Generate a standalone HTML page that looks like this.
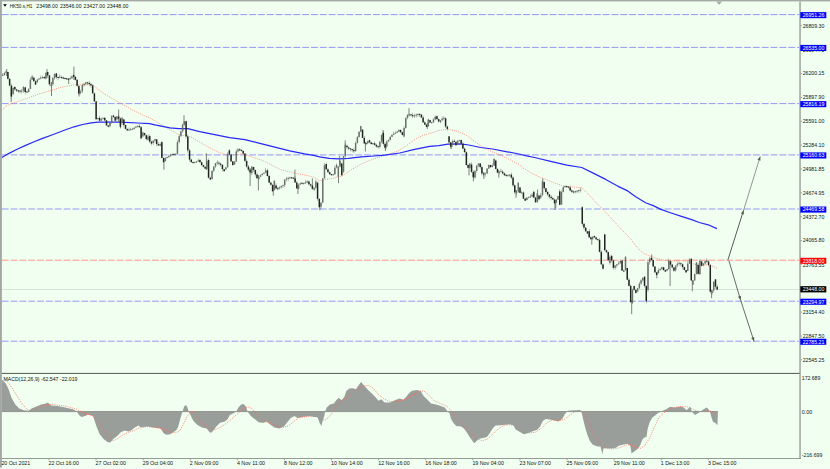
<!DOCTYPE html>
<html><head><meta charset="utf-8"><title>HK50.s H1</title>
<style>
html,body{margin:0;padding:0;background:#f0fff0;}
body{width:830px;height:469px;overflow:hidden;font-family:"Liberation Sans",sans-serif;}
svg{display:block;position:absolute;left:0;top:0;}
.t{font-family:"Liberation Sans",sans-serif;font-size:5.3px;fill:#101410;}
.w{fill:#ffffff;}
</style></head><body>
<svg width="830" height="469" viewBox="0 0 830 469">
<rect x="0" y="0" width="830" height="469" fill="#f0fff0"/>
<line x1="1.8" y1="14.6" x2="799.5" y2="14.6" stroke="#9498f8" stroke-width="1" stroke-dasharray="6.8 2.037"/>
<line x1="1.8" y1="47.4" x2="799.5" y2="47.4" stroke="#9498f8" stroke-width="1" stroke-dasharray="6.8 2.037"/>
<line x1="1.8" y1="103.6" x2="799.5" y2="103.6" stroke="#9498f8" stroke-width="1" stroke-dasharray="6.8 2.037"/>
<line x1="1.8" y1="154.9" x2="799.5" y2="154.9" stroke="#9498f8" stroke-width="1" stroke-dasharray="6.8 2.037"/>
<line x1="1.8" y1="209.0" x2="799.5" y2="209.0" stroke="#9498f8" stroke-width="1" stroke-dasharray="6.8 2.037"/>
<line x1="1.8" y1="301.2" x2="799.5" y2="301.2" stroke="#9498f8" stroke-width="1" stroke-dasharray="6.8 2.037"/>
<line x1="1.8" y1="341.2" x2="799.5" y2="341.2" stroke="#9498f8" stroke-width="1" stroke-dasharray="6.8 2.037"/>
<line x1="1.8" y1="260.2" x2="799.5" y2="260.2" stroke="#ff9488" stroke-width="1" stroke-dasharray="6.8 2.037"/>
<line x1="2" y1="289.5" x2="799.5" y2="289.5" stroke="#c8d0c8" stroke-width="0.6"/>
<polygon points="1.9,411.6 1.9,379.6 5.8,383.4 8.6,389.2 11.5,397.8 15.3,404.5 19.2,408.4 24.0,410.3 28.8,410.7 31.6,408.4 36.4,406.4 41.2,404.5 46.0,403.6 47.9,402.6 50.8,405.5 57.5,406.1 65.2,407.4 72.9,409.3 76.7,411.2 79.0,415.1 81.5,417.0 85.3,416.0 88.2,414.5 93.0,416.0 94.9,421.8 96.9,427.5 99.7,434.3 103.6,439.0 107.4,441.9 110.3,442.5 113.2,439.0 117.0,436.2 120.8,432.3 124.7,430.4 128.5,431.4 131.0,430.4 134.8,427.5 138.6,425.6 140.5,427.2 147.3,426.6 153.0,427.5 160.7,428.5 163.6,433.3 166.4,434.8 170.3,434.2 173.2,432.3 176.0,430.4 177.9,427.5 179.5,421.8 181.4,415.1 182.7,411.2 184.1,406.4 186.0,405.1 187.5,407.4 188.5,411.2 191.0,416.0 193.3,420.8 197.1,424.7 201.9,427.5 206.7,428.5 209.0,431.4 210.9,432.9 213.4,430.4 216.3,426.6 220.1,422.7 224.9,421.4 227.8,418.9 229.7,415.1 233.6,413.2 236.4,411.2 238.4,407.4 241.2,404.5 243.5,404.1 246.0,406.4 247.4,411.2 250.8,416.0 254.7,418.9 258.5,422.2 262.3,422.7 263.8,422.7 266.7,421.4 270.5,424.7 274.4,427.5 279.2,428.5 284.0,426.6 286.9,422.7 290.7,417.9 294.5,416.0 297.4,417.9 302.2,417.0 309.9,416.0 314.7,417.0 317.5,417.0 319.5,422.7 321.4,426.0 322.9,419.9 324.3,416.0 325.2,411.2 326.7,407.4 330.0,404.5 333.8,403.6 336.7,399.7 339.0,397.8 341.5,400.3 344.4,396.8 346.3,391.1 349.2,388.6 353.0,388.2 355.9,389.2 358.8,385.0 361.1,382.1 363.6,385.0 367.4,389.2 371.2,393.0 375.1,396.8 378.5,400.7 381.2,399.2 384.7,402.6 390.4,402.6 394.8,400.3 399.6,398.4 403.4,399.7 406.3,396.8 409.2,393.0 412.1,390.7 416.9,390.1 420.7,391.1 423.6,395.9 427.4,399.7 431.2,403.6 436.0,404.5 440.8,406.1 444.7,407.4 447.5,411.2 449.5,413.2 451.0,418.9 453.3,422.7 456.2,426.0 461.0,426.6 463.8,428.5 466.7,432.3 469.6,437.1 472.5,441.0 474.4,443.3 476.3,441.3 479.2,438.7 483.0,438.1 486.9,437.1 489.7,433.3 492.6,428.5 495.5,425.6 500.3,425.2 505.1,424.7 509.9,424.3 513.7,425.6 515.6,429.5 519.5,431.8 523.8,434.2 528.6,432.9 533.4,431.0 537.3,429.8 540.1,426.6 543.0,420.8 545.9,418.9 549.7,419.5 553.6,420.2 558.4,421.4 562.2,418.9 565.1,413.7 567.9,410.7 573.7,410.3 577.5,410.3 580.4,409.9 581.8,413.2 583.3,419.9 585.2,427.5 587.5,435.2 590.0,441.3 592.9,444.8 596.7,446.3 600.6,446.7 602.5,454.4 603.4,448.6 606.3,448.3 612.1,448.6 615.9,447.7 618.8,445.8 623.6,444.4 627.4,443.8 630.3,445.8 631.6,453.4 634.1,451.5 637.0,449.6 639.9,445.8 642.7,439.0 645.6,436.7 646.6,437.1 647.5,429.5 649.5,422.7 652.3,417.6 655.2,415.6 657.7,413.2 661.5,411.2 666.3,409.3 670.1,406.8 674.9,407.4 680.7,406.4 683.6,407.4 686.4,410.3 688.4,408.4 690.3,406.8 691.8,411.2 693.2,413.2 695.1,415.1 697.9,413.2 700.8,411.2 703.7,409.3 706.6,407.4 708.5,409.3 709.8,411.2 711.4,417.0 712.9,421.8 715.2,422.7 717.5,425.2 717.9,411.2 717.9,411.6" fill="#9a9e9a"/>
<line x1="1.9" y1="411.6" x2="717.9" y2="411.6" stroke="#8e928e" stroke-width="1"/>
<polyline points="3.8,377.7 9.6,384.4 15.3,393.0 21.1,402.6 26.9,409.3 30.7,410.7 36.4,408.4 44.1,405.5 49.9,404.5 57.5,405.1 67.1,406.4 76.7,409.3 84.4,413.2 92.1,415.6 97.8,420.8 103.6,429.5 108.4,437.1 112.2,441.0 117.0,439.0 122.7,435.2 128.5,432.3 134.3,430.4 137.7,428.5 147.3,426.6 156.9,427.5 164.5,429.5 171.2,432.3 176.0,432.9 179.9,430.4 183.7,423.7 187.5,416.0 191.0,411.8 194.2,412.6 198.1,417.9 202.9,423.7 208.6,427.5 214.4,429.8 220.1,427.5 225.9,423.7 231.7,418.9 237.4,414.1 243.2,409.3 248.0,406.8 251.8,408.4 256.6,414.1 262.3,418.9 265.8,421.8 271.5,423.7 278.2,426.6 284.0,427.2 288.8,425.6 293.6,421.8 298.4,417.9 306.0,416.6 315.6,416.6 321.4,418.9 324.3,420.3 328.1,417.9 331.9,413.2 335.8,406.4 340.6,401.6 346.3,397.8 352.1,393.0 357.8,389.2 363.6,385.9 368.4,385.3 373.2,388.2 378.0,394.0 383.7,398.8 389.5,401.6 395.8,401.6 401.5,400.3 407.3,398.4 413.0,394.9 418.8,391.5 423.6,390.7 428.4,394.9 434.1,400.7 440.8,403.6 446.6,406.1 451.4,410.7 456.2,417.9 461.0,423.7 466.7,428.5 472.5,434.3 477.3,439.0 482.1,440.6 486.9,439.4 491.7,435.2 496.4,430.4 501.2,426.6 507.0,424.7 512.7,425.0 518.5,427.5 524.8,431.0 529.6,432.9 535.3,432.3 541.1,428.5 546.9,422.7 552.6,419.9 558.4,420.8 564.1,419.5 569.9,415.1 575.6,411.2 580.4,410.3 584.2,414.1 589.0,423.7 593.8,434.3 598.6,441.9 603.4,446.7 608.2,448.6 614.0,449.0 619.7,447.7 625.5,445.2 630.3,444.4 635.1,446.7 639.9,448.6 644.7,445.8 649.5,438.1 654.3,427.5 658.6,417.9 663.4,413.2 669.2,409.3 674.9,407.4 681.6,406.4 688.4,407.0 694.1,409.9 699.9,411.8 705.6,410.9 711.4,411.2 715.2,414.1 717.1,416.0" fill="none" stroke="#ff6a5a" stroke-width="0.8" stroke-dasharray="1 1.2"/>
<polyline points="1.5,110.7 6.0,106.3 12.0,103.3 21.0,100.6 30.0,97.3 38.8,94.0 50.7,90.6 59.7,87.6 67.2,86.1 76.1,84.6 83.6,84.6 90.0,84.8 93.0,85.0 99.0,90.1 107.9,96.1 119.9,102.8 131.8,109.6 143.7,115.5 149.0,117.5 160.9,124.2 169.9,129.4 178.8,134.6 184.0,135.5 190.7,136.9 199.7,142.1 208.7,147.3 217.6,151.8 226.6,154.8 235.5,154.8 240.0,154.0 244.9,154.6 253.9,157.6 262.8,160.6 271.8,165.1 280.7,169.6 289.7,171.8 298.7,174.0 307.6,175.5 314.8,177.6 319.6,180.8 324.4,180.0 332.4,178.4 342.0,176.0 351.6,169.6 361.2,164.0 370.8,160.0 380.4,156.8 390.0,153.6 396.7,151.5 405.7,146.3 414.6,139.6 423.6,135.1 432.5,132.8 439.0,130.4 447.9,129.2 456.9,131.1 465.8,134.9 474.8,141.6 483.7,147.5 492.7,152.0 501.6,155.7 510.6,160.2 519.6,164.7 522.7,167.9 531.6,173.1 540.6,177.6 546.0,179.4 554.9,183.1 563.9,186.1 572.8,186.9 581.8,187.6 587.8,193.6 596.7,203.3 605.7,212.2 614.6,221.9 622.1,230.0 630.9,239.2 637.2,247.7 644.0,253.6 652.5,257.1 661.1,259.6 669.6,261.3 679.8,260.5 688.3,261.3 690.2,263.1 698.8,265.4 707.3,264.9 714.1,266.6 717.5,268.6" fill="none" stroke="#ff7a6a" stroke-width="0.8" stroke-dasharray="1 1.2"/>
<polyline points="1.9,157.4 8.5,153.6 17.1,149.3 25.6,145.4 34.1,141.8 42.6,138.4 51.2,135.2 59.7,132.0 65.6,129.8 74.1,126.8 82.6,124.5 91.2,122.9 98.0,122.1 110.0,122.2 119.9,122.2 137.8,123.0 149.7,123.7 154.9,124.9 169.9,127.9 178.8,128.7 187.8,128.7 199.7,131.6 214.6,134.6 229.6,137.6 244.9,139.7 259.9,143.4 274.8,147.2 289.7,150.9 304.6,153.9 313.6,155.4 319.6,156.8 329.2,158.4 338.8,158.9 348.4,158.4 361.2,156.8 374.0,156.0 384.8,155.2 399.7,153.0 414.6,149.3 429.6,146.3 439.0,145.6 447.9,144.1 459.9,143.8 468.8,145.0 480.7,147.5 492.7,149.0 504.6,151.3 516.6,153.5 525.5,155.7 534.6,157.5 549.6,161.2 566.9,165.2 581.8,167.5 593.7,173.4 605.7,179.4 617.6,186.1 627.7,190.9 635.3,196.6 645.6,202.8 653.2,205.6 660.9,209.4 671.2,213.0 681.4,216.4 691.6,219.6 699.3,222.5 708.2,224.8 716.9,228.6" fill="none" stroke="#2828f8" stroke-width="1.2" stroke-linejoin="round"/>
<line x1="6.7" y1="69" x2="6.7" y2="76" stroke="#606460" stroke-width="0.8"/>
<line x1="11.2" y1="90" x2="11.2" y2="102" stroke="#606460" stroke-width="0.8"/>
<line x1="47" y1="69" x2="47" y2="78" stroke="#606460" stroke-width="0.8"/>
<line x1="51.5" y1="82" x2="51.5" y2="96" stroke="#606460" stroke-width="0.8"/>
<line x1="68.7" y1="78" x2="68.7" y2="84" stroke="#606460" stroke-width="0.8"/>
<line x1="73.9" y1="66.7" x2="73.9" y2="80" stroke="#606460" stroke-width="0.8"/>
<line x1="79.1" y1="88" x2="79.1" y2="96.5" stroke="#606460" stroke-width="0.8"/>
<line x1="118.7" y1="109.5" x2="118.7" y2="122" stroke="#606460" stroke-width="0.8"/>
<line x1="120.6" y1="118" x2="120.6" y2="128" stroke="#606460" stroke-width="0.8"/>
<line x1="163.9" y1="158" x2="163.9" y2="169.7" stroke="#606460" stroke-width="0.8"/>
<line x1="184" y1="115.2" x2="184" y2="125" stroke="#606460" stroke-width="0.8"/>
<line x1="206.4" y1="153.3" x2="206.4" y2="170" stroke="#606460" stroke-width="0.8"/>
<line x1="250.1" y1="168" x2="250.1" y2="186" stroke="#606460" stroke-width="0.8"/>
<line x1="258.4" y1="175" x2="258.4" y2="190.4" stroke="#606460" stroke-width="0.8"/>
<line x1="273.3" y1="185" x2="273.3" y2="195.7" stroke="#606460" stroke-width="0.8"/>
<line x1="294.9" y1="169.6" x2="294.9" y2="180" stroke="#606460" stroke-width="0.8"/>
<line x1="297.9" y1="185" x2="297.9" y2="194" stroke="#606460" stroke-width="0.8"/>
<line x1="312.4" y1="178.4" x2="312.4" y2="188" stroke="#606460" stroke-width="0.8"/>
<line x1="319.9" y1="204" x2="319.9" y2="210.4" stroke="#606460" stroke-width="0.8"/>
<line x1="338.5" y1="170" x2="338.5" y2="183.2" stroke="#606460" stroke-width="0.8"/>
<line x1="339.6" y1="156" x2="339.6" y2="165" stroke="#606460" stroke-width="0.8"/>
<line x1="345.2" y1="140.3" x2="345.2" y2="148" stroke="#606460" stroke-width="0.8"/>
<line x1="365.4" y1="142" x2="365.4" y2="151.5" stroke="#606460" stroke-width="0.8"/>
<line x1="383" y1="130" x2="383" y2="140" stroke="#606460" stroke-width="0.8"/>
<line x1="385.5" y1="145" x2="385.5" y2="151" stroke="#606460" stroke-width="0.8"/>
<line x1="409" y1="108.2" x2="409" y2="116" stroke="#606460" stroke-width="0.8"/>
<line x1="427.3" y1="123" x2="427.3" y2="129" stroke="#606460" stroke-width="0.8"/>
<line x1="451.2" y1="143" x2="451.2" y2="149" stroke="#606460" stroke-width="0.8"/>
<line x1="469" y1="165" x2="469" y2="175.4" stroke="#606460" stroke-width="0.8"/>
<line x1="473.4" y1="172" x2="473.4" y2="181.3" stroke="#606460" stroke-width="0.8"/>
<line x1="483.9" y1="172" x2="483.9" y2="179" stroke="#606460" stroke-width="0.8"/>
<line x1="494.6" y1="159" x2="494.6" y2="166" stroke="#606460" stroke-width="0.8"/>
<line x1="498.8" y1="170" x2="498.8" y2="177.6" stroke="#606460" stroke-width="0.8"/>
<line x1="516" y1="190" x2="516" y2="197.8" stroke="#606460" stroke-width="0.8"/>
<line x1="518.5" y1="182.8" x2="518.5" y2="192" stroke="#606460" stroke-width="0.8"/>
<line x1="537.6" y1="189.5" x2="537.6" y2="196" stroke="#606460" stroke-width="0.8"/>
<line x1="542.8" y1="178.4" x2="542.8" y2="185" stroke="#606460" stroke-width="0.8"/>
<line x1="555.8" y1="200" x2="555.8" y2="208.2" stroke="#606460" stroke-width="0.8"/>
<line x1="554.9" y1="200" x2="554.9" y2="210" stroke="#606460" stroke-width="0.8"/>
<line x1="591.8" y1="238" x2="591.8" y2="244.7" stroke="#606460" stroke-width="0.8"/>
<line x1="631.7" y1="300" x2="631.7" y2="314.2" stroke="#606460" stroke-width="0.8"/>
<line x1="651.7" y1="254.5" x2="651.7" y2="260" stroke="#606460" stroke-width="0.8"/>
<line x1="656.8" y1="272" x2="656.8" y2="278.4" stroke="#606460" stroke-width="0.8"/>
<line x1="670.1" y1="262" x2="670.1" y2="286.1" stroke="#606460" stroke-width="0.8"/>
<line x1="692.3" y1="280" x2="692.3" y2="291.3" stroke="#606460" stroke-width="0.8"/>
<line x1="711.6" y1="290" x2="711.6" y2="298.1" stroke="#606460" stroke-width="0.8"/>
<rect x="2.41" y="73.2" width="0.6" height="3.0" fill="#6a6e6a" fill-opacity="0.75"/>
<rect x="1.96" y="74.8" width="1.5" height="1.0" fill="#6c706c"/>
<rect x="4.14" y="71.9" width="0.6" height="3.7" fill="#6a6e6a" fill-opacity="0.75"/>
<rect x="3.69" y="73.0" width="1.5" height="2.1" fill="#6c706c"/>
<rect x="5.87" y="70.5" width="0.6" height="3.0" fill="#6a6e6a" fill-opacity="0.75"/>
<rect x="5.42" y="71.2" width="1.5" height="1.8" fill="#6c706c"/>
<rect x="7.60" y="71.6" width="0.6" height="7.9" fill="#6a6e6a" fill-opacity="0.75"/>
<rect x="7.15" y="72.0" width="1.5" height="6.8" fill="#222422"/>
<rect x="9.33" y="78.5" width="0.6" height="7.8" fill="#6a6e6a" fill-opacity="0.75"/>
<rect x="8.88" y="78.8" width="1.5" height="6.7" fill="#222422"/>
<rect x="11.06" y="83.5" width="0.6" height="13.9" fill="#6a6e6a" fill-opacity="0.75"/>
<rect x="10.61" y="85.5" width="1.5" height="11.0" fill="#222422"/>
<rect x="12.79" y="86.6" width="0.6" height="8.6" fill="#6a6e6a" fill-opacity="0.75"/>
<rect x="12.34" y="88.0" width="1.5" height="6.1" fill="#6c706c"/>
<rect x="14.52" y="86.1" width="0.6" height="4.5" fill="#6a6e6a" fill-opacity="0.75"/>
<rect x="14.07" y="87.0" width="1.5" height="2.4" fill="#222422"/>
<rect x="16.25" y="88.9" width="0.6" height="3.2" fill="#6a6e6a" fill-opacity="0.75"/>
<rect x="15.80" y="89.4" width="1.5" height="1.3" fill="#222422"/>
<rect x="17.98" y="90.0" width="0.6" height="2.9" fill="#6a6e6a" fill-opacity="0.75"/>
<rect x="17.53" y="90.4" width="1.5" height="1.0" fill="#222422"/>
<rect x="19.71" y="90.3" width="0.6" height="3.0" fill="#6a6e6a" fill-opacity="0.75"/>
<rect x="19.26" y="90.6" width="1.5" height="1.0" fill="#222422"/>
<rect x="21.44" y="88.8" width="0.6" height="4.7" fill="#6a6e6a" fill-opacity="0.75"/>
<rect x="20.99" y="90.6" width="1.5" height="1.0" fill="#6c706c"/>
<rect x="23.17" y="85.8" width="0.6" height="7.1" fill="#6a6e6a" fill-opacity="0.75"/>
<rect x="22.72" y="87.0" width="1.5" height="3.8" fill="#6c706c"/>
<rect x="24.90" y="86.6" width="0.6" height="7.7" fill="#6a6e6a" fill-opacity="0.75"/>
<rect x="24.45" y="87.4" width="1.5" height="4.6" fill="#222422"/>
<rect x="26.63" y="91.0" width="0.6" height="1.8" fill="#6a6e6a" fill-opacity="0.75"/>
<rect x="26.18" y="91.5" width="1.5" height="1.0" fill="#222422"/>
<rect x="28.36" y="88.5" width="0.6" height="3.8" fill="#6a6e6a" fill-opacity="0.75"/>
<rect x="27.91" y="88.8" width="1.5" height="3.2" fill="#6c706c"/>
<rect x="30.09" y="77.3" width="0.6" height="11.8" fill="#6a6e6a" fill-opacity="0.75"/>
<rect x="29.64" y="79.6" width="1.5" height="9.3" fill="#6c706c"/>
<rect x="31.82" y="74.8" width="0.6" height="5.1" fill="#6a6e6a" fill-opacity="0.75"/>
<rect x="31.37" y="76.4" width="1.5" height="3.2" fill="#6c706c"/>
<rect x="33.55" y="76.6" width="0.6" height="5.0" fill="#6a6e6a" fill-opacity="0.75"/>
<rect x="33.10" y="77.7" width="1.5" height="3.5" fill="#222422"/>
<rect x="35.28" y="80.5" width="0.6" height="4.5" fill="#6a6e6a" fill-opacity="0.75"/>
<rect x="34.83" y="81.2" width="1.5" height="3.4" fill="#222422"/>
<rect x="37.01" y="79.1" width="0.6" height="3.7" fill="#6a6e6a" fill-opacity="0.75"/>
<rect x="36.56" y="79.5" width="1.5" height="2.7" fill="#6c706c"/>
<rect x="38.74" y="78.1" width="0.6" height="1.9" fill="#6a6e6a" fill-opacity="0.75"/>
<rect x="38.29" y="78.4" width="1.5" height="1.0" fill="#6c706c"/>
<rect x="40.47" y="75.6" width="0.6" height="3.7" fill="#6a6e6a" fill-opacity="0.75"/>
<rect x="40.02" y="77.6" width="1.5" height="1.0" fill="#6c706c"/>
<rect x="42.20" y="75.6" width="0.6" height="3.2" fill="#6a6e6a" fill-opacity="0.75"/>
<rect x="41.75" y="77.0" width="1.5" height="1.0" fill="#6c706c"/>
<rect x="43.93" y="76.1" width="0.6" height="3.0" fill="#6a6e6a" fill-opacity="0.75"/>
<rect x="43.48" y="77.0" width="1.5" height="1.2" fill="#222422"/>
<rect x="45.66" y="72.2" width="0.6" height="7.4" fill="#6a6e6a" fill-opacity="0.75"/>
<rect x="45.21" y="72.8" width="1.5" height="5.8" fill="#6c706c"/>
<rect x="47.39" y="71.6" width="0.6" height="4.9" fill="#6a6e6a" fill-opacity="0.75"/>
<rect x="46.94" y="72.0" width="1.5" height="3.3" fill="#222422"/>
<rect x="49.12" y="75.0" width="0.6" height="10.7" fill="#6a6e6a" fill-opacity="0.75"/>
<rect x="48.67" y="75.3" width="1.5" height="9.0" fill="#222422"/>
<rect x="50.85" y="82.5" width="0.6" height="5.0" fill="#6a6e6a" fill-opacity="0.75"/>
<rect x="50.40" y="84.3" width="1.5" height="1.7" fill="#6c706c"/>
<rect x="52.58" y="76.8" width="0.6" height="9.2" fill="#6a6e6a" fill-opacity="0.75"/>
<rect x="52.13" y="78.0" width="1.5" height="6.3" fill="#6c706c"/>
<rect x="54.31" y="73.2" width="0.6" height="6.7" fill="#6a6e6a" fill-opacity="0.75"/>
<rect x="53.86" y="74.0" width="1.5" height="4.1" fill="#6c706c"/>
<rect x="56.04" y="72.9" width="0.6" height="6.2" fill="#6a6e6a" fill-opacity="0.75"/>
<rect x="55.59" y="73.4" width="1.5" height="3.7" fill="#222422"/>
<rect x="57.77" y="76.7" width="0.6" height="3.6" fill="#6a6e6a" fill-opacity="0.75"/>
<rect x="57.32" y="77.0" width="1.5" height="1.0" fill="#222422"/>
<rect x="59.50" y="74.4" width="0.6" height="3.5" fill="#6a6e6a" fill-opacity="0.75"/>
<rect x="59.05" y="76.7" width="1.5" height="1.0" fill="#6c706c"/>
<rect x="61.23" y="75.5" width="0.6" height="2.9" fill="#6a6e6a" fill-opacity="0.75"/>
<rect x="60.78" y="77.1" width="1.5" height="1.0" fill="#222422"/>
<rect x="62.96" y="76.5" width="0.6" height="2.4" fill="#6a6e6a" fill-opacity="0.75"/>
<rect x="62.51" y="77.6" width="1.5" height="1.0" fill="#222422"/>
<rect x="64.69" y="77.3" width="0.6" height="2.0" fill="#6a6e6a" fill-opacity="0.75"/>
<rect x="64.24" y="78.0" width="1.5" height="1.0" fill="#222422"/>
<rect x="66.42" y="78.0" width="0.6" height="1.8" fill="#6a6e6a" fill-opacity="0.75"/>
<rect x="65.97" y="78.4" width="1.5" height="1.0" fill="#222422"/>
<rect x="68.15" y="78.4" width="0.6" height="1.8" fill="#6a6e6a" fill-opacity="0.75"/>
<rect x="67.70" y="78.8" width="1.5" height="1.0" fill="#222422"/>
<rect x="69.88" y="76.2" width="0.6" height="3.5" fill="#6a6e6a" fill-opacity="0.75"/>
<rect x="69.43" y="78.2" width="1.5" height="1.0" fill="#6c706c"/>
<rect x="71.61" y="75.1" width="0.6" height="3.8" fill="#6a6e6a" fill-opacity="0.75"/>
<rect x="71.16" y="76.5" width="1.5" height="1.8" fill="#6c706c"/>
<rect x="73.34" y="74.1" width="0.6" height="3.4" fill="#6a6e6a" fill-opacity="0.75"/>
<rect x="72.89" y="75.0" width="1.5" height="1.8" fill="#222422"/>
<rect x="75.07" y="76.2" width="0.6" height="4.3" fill="#6a6e6a" fill-opacity="0.75"/>
<rect x="74.62" y="76.8" width="1.5" height="3.0" fill="#222422"/>
<rect x="76.80" y="79.4" width="0.6" height="7.4" fill="#6a6e6a" fill-opacity="0.75"/>
<rect x="76.35" y="79.7" width="1.5" height="6.1" fill="#222422"/>
<rect x="78.53" y="85.5" width="0.6" height="9.1" fill="#6a6e6a" fill-opacity="0.75"/>
<rect x="78.08" y="85.8" width="1.5" height="7.8" fill="#222422"/>
<rect x="80.26" y="89.7" width="0.6" height="4.7" fill="#6a6e6a" fill-opacity="0.75"/>
<rect x="79.81" y="91.4" width="1.5" height="1.7" fill="#6c706c"/>
<rect x="81.99" y="83.9" width="0.6" height="8.9" fill="#6a6e6a" fill-opacity="0.75"/>
<rect x="81.54" y="85.1" width="1.5" height="6.3" fill="#6c706c"/>
<rect x="83.72" y="83.0" width="0.6" height="3.6" fill="#6a6e6a" fill-opacity="0.75"/>
<rect x="83.27" y="83.8" width="1.5" height="1.4" fill="#6c706c"/>
<rect x="85.45" y="81.9" width="0.6" height="3.5" fill="#6a6e6a" fill-opacity="0.75"/>
<rect x="85.00" y="82.4" width="1.5" height="1.4" fill="#6c706c"/>
<rect x="87.18" y="81.9" width="0.6" height="3.2" fill="#6a6e6a" fill-opacity="0.75"/>
<rect x="86.73" y="82.3" width="1.5" height="1.0" fill="#222422"/>
<rect x="88.91" y="80.8" width="0.6" height="5.3" fill="#6a6e6a" fill-opacity="0.75"/>
<rect x="88.46" y="83.0" width="1.5" height="1.0" fill="#222422"/>
<rect x="90.64" y="82.4" width="0.6" height="5.3" fill="#6a6e6a" fill-opacity="0.75"/>
<rect x="90.19" y="84.0" width="1.5" height="1.4" fill="#222422"/>
<rect x="92.37" y="84.3" width="0.6" height="9.2" fill="#6a6e6a" fill-opacity="0.75"/>
<rect x="91.92" y="85.4" width="1.5" height="7.9" fill="#222422"/>
<rect x="94.10" y="92.6" width="0.6" height="9.1" fill="#6a6e6a" fill-opacity="0.75"/>
<rect x="93.65" y="93.3" width="1.5" height="8.1" fill="#222422"/>
<rect x="95.83" y="101.0" width="0.6" height="18.7" fill="#6a6e6a" fill-opacity="0.75"/>
<rect x="95.38" y="101.4" width="1.5" height="17.9" fill="#222422"/>
<rect x="97.56" y="117.7" width="0.6" height="1.8" fill="#6a6e6a" fill-opacity="0.75"/>
<rect x="97.11" y="118.0" width="1.5" height="1.1" fill="#6c706c"/>
<rect x="99.29" y="115.8" width="0.6" height="5.3" fill="#6a6e6a" fill-opacity="0.75"/>
<rect x="98.84" y="117.8" width="1.5" height="2.9" fill="#222422"/>
<rect x="101.02" y="117.6" width="0.6" height="3.5" fill="#6a6e6a" fill-opacity="0.75"/>
<rect x="100.57" y="119.0" width="1.5" height="1.7" fill="#6c706c"/>
<rect x="102.75" y="117.1" width="0.6" height="2.4" fill="#6a6e6a" fill-opacity="0.75"/>
<rect x="102.30" y="118.1" width="1.5" height="1.0" fill="#6c706c"/>
<rect x="104.48" y="117.2" width="0.6" height="3.8" fill="#6a6e6a" fill-opacity="0.75"/>
<rect x="104.03" y="117.8" width="1.5" height="2.6" fill="#222422"/>
<rect x="106.21" y="120.0" width="0.6" height="6.1" fill="#6a6e6a" fill-opacity="0.75"/>
<rect x="105.76" y="120.4" width="1.5" height="5.0" fill="#222422"/>
<rect x="107.94" y="125.1" width="0.6" height="2.4" fill="#6a6e6a" fill-opacity="0.75"/>
<rect x="107.49" y="125.4" width="1.5" height="1.3" fill="#222422"/>
<rect x="109.67" y="121.1" width="0.6" height="6.1" fill="#6a6e6a" fill-opacity="0.75"/>
<rect x="109.22" y="122.9" width="1.5" height="3.4" fill="#6c706c"/>
<rect x="111.40" y="115.0" width="0.6" height="8.9" fill="#6a6e6a" fill-opacity="0.75"/>
<rect x="110.95" y="116.2" width="1.5" height="6.7" fill="#6c706c"/>
<rect x="113.13" y="114.7" width="0.6" height="3.3" fill="#6a6e6a" fill-opacity="0.75"/>
<rect x="112.68" y="115.5" width="1.5" height="1.4" fill="#222422"/>
<rect x="114.86" y="116.4" width="0.6" height="5.7" fill="#6a6e6a" fill-opacity="0.75"/>
<rect x="114.41" y="116.9" width="1.5" height="3.8" fill="#222422"/>
<rect x="116.59" y="116.0" width="0.6" height="5.0" fill="#6a6e6a" fill-opacity="0.75"/>
<rect x="116.14" y="116.3" width="1.5" height="3.1" fill="#6c706c"/>
<rect x="118.32" y="114.3" width="0.6" height="6.2" fill="#6a6e6a" fill-opacity="0.75"/>
<rect x="117.87" y="116.5" width="1.5" height="2.3" fill="#222422"/>
<rect x="120.05" y="117.2" width="0.6" height="11.4" fill="#6a6e6a" fill-opacity="0.75"/>
<rect x="119.60" y="118.8" width="1.5" height="7.9" fill="#222422"/>
<rect x="121.78" y="116.7" width="0.6" height="8.4" fill="#6a6e6a" fill-opacity="0.75"/>
<rect x="121.33" y="117.8" width="1.5" height="5.3" fill="#6c706c"/>
<rect x="123.51" y="118.8" width="0.6" height="8.5" fill="#6a6e6a" fill-opacity="0.75"/>
<rect x="123.06" y="119.4" width="1.5" height="5.6" fill="#222422"/>
<rect x="125.24" y="124.6" width="0.6" height="4.6" fill="#6a6e6a" fill-opacity="0.75"/>
<rect x="124.79" y="125.0" width="1.5" height="3.9" fill="#222422"/>
<rect x="126.97" y="128.6" width="0.6" height="2.1" fill="#6a6e6a" fill-opacity="0.75"/>
<rect x="126.52" y="128.9" width="1.5" height="1.5" fill="#222422"/>
<rect x="128.70" y="127.5" width="0.6" height="3.3" fill="#6a6e6a" fill-opacity="0.75"/>
<rect x="128.25" y="129.5" width="1.5" height="1.0" fill="#6c706c"/>
<rect x="130.43" y="127.7" width="0.6" height="2.8" fill="#6a6e6a" fill-opacity="0.75"/>
<rect x="129.98" y="129.1" width="1.5" height="1.0" fill="#6c706c"/>
<rect x="132.16" y="127.8" width="0.6" height="2.3" fill="#6a6e6a" fill-opacity="0.75"/>
<rect x="131.71" y="128.7" width="1.5" height="1.0" fill="#6c706c"/>
<rect x="133.89" y="127.1" width="0.6" height="2.4" fill="#6a6e6a" fill-opacity="0.75"/>
<rect x="133.44" y="127.7" width="1.5" height="1.3" fill="#6c706c"/>
<rect x="135.62" y="126.2" width="0.6" height="2.0" fill="#6a6e6a" fill-opacity="0.75"/>
<rect x="135.17" y="126.5" width="1.5" height="1.1" fill="#6c706c"/>
<rect x="137.35" y="125.5" width="0.6" height="1.9" fill="#6a6e6a" fill-opacity="0.75"/>
<rect x="136.90" y="125.8" width="1.5" height="1.0" fill="#6c706c"/>
<rect x="139.08" y="124.2" width="0.6" height="3.7" fill="#6a6e6a" fill-opacity="0.75"/>
<rect x="138.63" y="126.0" width="1.5" height="1.2" fill="#222422"/>
<rect x="140.81" y="126.0" width="0.6" height="13.2" fill="#6a6e6a" fill-opacity="0.75"/>
<rect x="140.36" y="127.2" width="1.5" height="11.2" fill="#222422"/>
<rect x="142.54" y="131.6" width="0.6" height="5.8" fill="#6a6e6a" fill-opacity="0.75"/>
<rect x="142.09" y="132.4" width="1.5" height="4.1" fill="#6c706c"/>
<rect x="144.27" y="132.6" width="0.6" height="3.6" fill="#6a6e6a" fill-opacity="0.75"/>
<rect x="143.82" y="133.1" width="1.5" height="2.0" fill="#222422"/>
<rect x="146.00" y="134.8" width="0.6" height="5.5" fill="#6a6e6a" fill-opacity="0.75"/>
<rect x="145.55" y="135.1" width="1.5" height="4.0" fill="#222422"/>
<rect x="147.73" y="134.1" width="0.6" height="7.1" fill="#6a6e6a" fill-opacity="0.75"/>
<rect x="147.28" y="136.4" width="1.5" height="3.5" fill="#6c706c"/>
<rect x="149.46" y="134.5" width="0.6" height="8.6" fill="#6a6e6a" fill-opacity="0.75"/>
<rect x="149.01" y="136.1" width="1.5" height="5.5" fill="#222422"/>
<rect x="151.19" y="140.6" width="0.6" height="4.7" fill="#6a6e6a" fill-opacity="0.75"/>
<rect x="150.74" y="141.6" width="1.5" height="2.0" fill="#222422"/>
<rect x="152.92" y="140.1" width="0.6" height="4.8" fill="#6a6e6a" fill-opacity="0.75"/>
<rect x="152.47" y="140.7" width="1.5" height="2.3" fill="#6c706c"/>
<rect x="154.65" y="138.7" width="0.6" height="4.1" fill="#6a6e6a" fill-opacity="0.75"/>
<rect x="154.20" y="139.1" width="1.5" height="1.6" fill="#6c706c"/>
<rect x="156.38" y="139.1" width="0.6" height="7.3" fill="#6a6e6a" fill-opacity="0.75"/>
<rect x="155.93" y="139.4" width="1.5" height="4.7" fill="#222422"/>
<rect x="158.11" y="142.1" width="0.6" height="3.7" fill="#6a6e6a" fill-opacity="0.75"/>
<rect x="157.66" y="144.1" width="1.5" height="1.4" fill="#222422"/>
<rect x="159.84" y="142.7" width="0.6" height="3.4" fill="#6a6e6a" fill-opacity="0.75"/>
<rect x="159.39" y="144.1" width="1.5" height="1.7" fill="#6c706c"/>
<rect x="161.57" y="141.2" width="0.6" height="17.1" fill="#6a6e6a" fill-opacity="0.75"/>
<rect x="161.12" y="142.1" width="1.5" height="15.8" fill="#222422"/>
<rect x="163.30" y="157.4" width="0.6" height="5.2" fill="#6a6e6a" fill-opacity="0.75"/>
<rect x="162.85" y="157.9" width="1.5" height="4.3" fill="#222422"/>
<rect x="165.03" y="157.4" width="0.6" height="4.1" fill="#6a6e6a" fill-opacity="0.75"/>
<rect x="164.58" y="157.8" width="1.5" height="3.3" fill="#6c706c"/>
<rect x="166.76" y="156.7" width="0.6" height="1.8" fill="#6a6e6a" fill-opacity="0.75"/>
<rect x="166.31" y="157.0" width="1.5" height="1.0" fill="#6c706c"/>
<rect x="168.49" y="154.4" width="0.6" height="3.3" fill="#6a6e6a" fill-opacity="0.75"/>
<rect x="168.04" y="156.1" width="1.5" height="1.0" fill="#6c706c"/>
<rect x="170.22" y="153.7" width="0.6" height="3.0" fill="#6a6e6a" fill-opacity="0.75"/>
<rect x="169.77" y="155.0" width="1.5" height="1.2" fill="#6c706c"/>
<rect x="171.95" y="153.2" width="0.6" height="2.5" fill="#6a6e6a" fill-opacity="0.75"/>
<rect x="171.50" y="154.0" width="1.5" height="1.0" fill="#6c706c"/>
<rect x="173.68" y="153.4" width="0.6" height="2.3" fill="#6a6e6a" fill-opacity="0.75"/>
<rect x="173.23" y="153.9" width="1.5" height="1.0" fill="#222422"/>
<rect x="175.41" y="153.5" width="0.6" height="2.2" fill="#6a6e6a" fill-opacity="0.75"/>
<rect x="174.96" y="153.8" width="1.5" height="1.0" fill="#6c706c"/>
<rect x="177.14" y="139.8" width="0.6" height="15.0" fill="#6a6e6a" fill-opacity="0.75"/>
<rect x="176.69" y="142.1" width="1.5" height="11.7" fill="#6c706c"/>
<rect x="178.87" y="134.5" width="0.6" height="8.8" fill="#6a6e6a" fill-opacity="0.75"/>
<rect x="178.42" y="136.1" width="1.5" height="6.0" fill="#6c706c"/>
<rect x="180.60" y="130.3" width="0.6" height="7.0" fill="#6a6e6a" fill-opacity="0.75"/>
<rect x="180.15" y="131.4" width="1.5" height="4.7" fill="#6c706c"/>
<rect x="182.33" y="123.8" width="0.6" height="9.1" fill="#6a6e6a" fill-opacity="0.75"/>
<rect x="181.88" y="124.4" width="1.5" height="7.0" fill="#6c706c"/>
<rect x="184.06" y="120.9" width="0.6" height="5.2" fill="#6a6e6a" fill-opacity="0.75"/>
<rect x="183.61" y="121.3" width="1.5" height="3.1" fill="#6c706c"/>
<rect x="185.79" y="120.9" width="0.6" height="17.5" fill="#6a6e6a" fill-opacity="0.75"/>
<rect x="185.34" y="121.2" width="1.5" height="15.3" fill="#222422"/>
<rect x="187.52" y="134.5" width="0.6" height="17.9" fill="#6a6e6a" fill-opacity="0.75"/>
<rect x="187.07" y="136.5" width="1.5" height="13.8" fill="#222422"/>
<rect x="189.25" y="148.9" width="0.6" height="12.9" fill="#6a6e6a" fill-opacity="0.75"/>
<rect x="188.80" y="150.3" width="1.5" height="9.3" fill="#222422"/>
<rect x="190.98" y="158.7" width="0.6" height="3.8" fill="#6a6e6a" fill-opacity="0.75"/>
<rect x="190.53" y="159.6" width="1.5" height="2.6" fill="#222422"/>
<rect x="192.71" y="161.5" width="0.6" height="1.9" fill="#6a6e6a" fill-opacity="0.75"/>
<rect x="192.26" y="162.1" width="1.5" height="1.0" fill="#222422"/>
<rect x="194.44" y="161.7" width="0.6" height="1.7" fill="#6a6e6a" fill-opacity="0.75"/>
<rect x="193.99" y="162.0" width="1.5" height="1.0" fill="#6c706c"/>
<rect x="196.17" y="161.1" width="0.6" height="1.7" fill="#6a6e6a" fill-opacity="0.75"/>
<rect x="195.72" y="161.4" width="1.5" height="1.0" fill="#6c706c"/>
<rect x="197.90" y="158.6" width="0.6" height="3.2" fill="#6a6e6a" fill-opacity="0.75"/>
<rect x="197.45" y="160.4" width="1.5" height="1.0" fill="#6c706c"/>
<rect x="199.63" y="158.8" width="0.6" height="3.9" fill="#6a6e6a" fill-opacity="0.75"/>
<rect x="199.18" y="160.0" width="1.5" height="2.2" fill="#222422"/>
<rect x="201.36" y="161.5" width="0.6" height="4.2" fill="#6a6e6a" fill-opacity="0.75"/>
<rect x="200.91" y="162.2" width="1.5" height="2.9" fill="#222422"/>
<rect x="203.09" y="164.6" width="0.6" height="2.7" fill="#6a6e6a" fill-opacity="0.75"/>
<rect x="202.64" y="165.1" width="1.5" height="1.7" fill="#222422"/>
<rect x="204.82" y="166.4" width="0.6" height="2.8" fill="#6a6e6a" fill-opacity="0.75"/>
<rect x="204.37" y="166.8" width="1.5" height="1.8" fill="#222422"/>
<rect x="206.55" y="158.9" width="0.6" height="10.9" fill="#6a6e6a" fill-opacity="0.75"/>
<rect x="206.10" y="161.1" width="1.5" height="7.9" fill="#6c706c"/>
<rect x="208.28" y="158.4" width="0.6" height="20.2" fill="#6a6e6a" fill-opacity="0.75"/>
<rect x="207.83" y="160.0" width="1.5" height="17.7" fill="#222422"/>
<rect x="210.01" y="176.6" width="0.6" height="3.8" fill="#6a6e6a" fill-opacity="0.75"/>
<rect x="209.56" y="177.7" width="1.5" height="1.7" fill="#222422"/>
<rect x="211.74" y="170.2" width="0.6" height="9.9" fill="#6a6e6a" fill-opacity="0.75"/>
<rect x="211.29" y="170.9" width="1.5" height="8.0" fill="#6c706c"/>
<rect x="213.47" y="166.2" width="0.6" height="6.0" fill="#6a6e6a" fill-opacity="0.75"/>
<rect x="213.02" y="166.6" width="1.5" height="4.2" fill="#6c706c"/>
<rect x="215.20" y="162.9" width="0.6" height="5.2" fill="#6a6e6a" fill-opacity="0.75"/>
<rect x="214.75" y="163.2" width="1.5" height="3.4" fill="#6c706c"/>
<rect x="216.93" y="160.2" width="0.6" height="4.7" fill="#6a6e6a" fill-opacity="0.75"/>
<rect x="216.48" y="162.2" width="1.5" height="1.0" fill="#6c706c"/>
<rect x="218.66" y="161.3" width="0.6" height="4.3" fill="#6a6e6a" fill-opacity="0.75"/>
<rect x="218.21" y="162.7" width="1.5" height="1.0" fill="#222422"/>
<rect x="220.39" y="162.7" width="0.6" height="4.1" fill="#6a6e6a" fill-opacity="0.75"/>
<rect x="219.94" y="163.7" width="1.5" height="1.2" fill="#222422"/>
<rect x="222.12" y="164.3" width="0.6" height="7.2" fill="#6a6e6a" fill-opacity="0.75"/>
<rect x="221.67" y="164.8" width="1.5" height="4.3" fill="#222422"/>
<rect x="223.85" y="168.8" width="0.6" height="2.7" fill="#6a6e6a" fill-opacity="0.75"/>
<rect x="223.40" y="169.2" width="1.5" height="2.0" fill="#222422"/>
<rect x="225.58" y="167.0" width="0.6" height="2.8" fill="#6a6e6a" fill-opacity="0.75"/>
<rect x="225.13" y="167.3" width="1.5" height="2.2" fill="#6c706c"/>
<rect x="227.31" y="152.1" width="0.6" height="15.5" fill="#6a6e6a" fill-opacity="0.75"/>
<rect x="226.86" y="153.9" width="1.5" height="13.4" fill="#6c706c"/>
<rect x="229.04" y="149.1" width="0.6" height="5.8" fill="#6a6e6a" fill-opacity="0.75"/>
<rect x="228.59" y="150.3" width="1.5" height="4.2" fill="#222422"/>
<rect x="230.77" y="153.7" width="0.6" height="8.1" fill="#6a6e6a" fill-opacity="0.75"/>
<rect x="230.32" y="154.5" width="1.5" height="6.9" fill="#222422"/>
<rect x="232.50" y="160.9" width="0.6" height="4.6" fill="#6a6e6a" fill-opacity="0.75"/>
<rect x="232.05" y="161.4" width="1.5" height="3.7" fill="#222422"/>
<rect x="234.23" y="161.1" width="0.6" height="3.8" fill="#6a6e6a" fill-opacity="0.75"/>
<rect x="233.78" y="161.4" width="1.5" height="3.0" fill="#6c706c"/>
<rect x="235.96" y="149.3" width="0.6" height="12.7" fill="#6a6e6a" fill-opacity="0.75"/>
<rect x="235.51" y="151.5" width="1.5" height="9.9" fill="#6c706c"/>
<rect x="237.69" y="147.8" width="0.6" height="4.4" fill="#6a6e6a" fill-opacity="0.75"/>
<rect x="237.24" y="149.4" width="1.5" height="2.1" fill="#6c706c"/>
<rect x="239.42" y="148.2" width="0.6" height="2.9" fill="#6a6e6a" fill-opacity="0.75"/>
<rect x="238.97" y="149.3" width="1.5" height="1.0" fill="#222422"/>
<rect x="241.15" y="149.2" width="0.6" height="2.6" fill="#6a6e6a" fill-opacity="0.75"/>
<rect x="240.70" y="149.9" width="1.5" height="1.0" fill="#222422"/>
<rect x="242.88" y="150.4" width="0.6" height="4.1" fill="#6a6e6a" fill-opacity="0.75"/>
<rect x="242.43" y="150.9" width="1.5" height="2.7" fill="#222422"/>
<rect x="244.61" y="153.2" width="0.6" height="8.8" fill="#6a6e6a" fill-opacity="0.75"/>
<rect x="244.16" y="153.5" width="1.5" height="7.3" fill="#222422"/>
<rect x="246.34" y="158.9" width="0.6" height="8.9" fill="#6a6e6a" fill-opacity="0.75"/>
<rect x="245.89" y="160.9" width="1.5" height="5.6" fill="#222422"/>
<rect x="248.07" y="165.1" width="0.6" height="6.1" fill="#6a6e6a" fill-opacity="0.75"/>
<rect x="247.62" y="166.5" width="1.5" height="3.2" fill="#222422"/>
<rect x="249.80" y="168.7" width="0.6" height="5.3" fill="#6a6e6a" fill-opacity="0.75"/>
<rect x="249.35" y="169.6" width="1.5" height="2.7" fill="#222422"/>
<rect x="251.53" y="166.0" width="0.6" height="9.1" fill="#6a6e6a" fill-opacity="0.75"/>
<rect x="251.08" y="166.6" width="1.5" height="6.7" fill="#6c706c"/>
<rect x="253.26" y="166.7" width="0.6" height="5.3" fill="#6a6e6a" fill-opacity="0.75"/>
<rect x="252.81" y="167.1" width="1.5" height="2.9" fill="#222422"/>
<rect x="254.99" y="169.7" width="0.6" height="6.9" fill="#6a6e6a" fill-opacity="0.75"/>
<rect x="254.54" y="170.0" width="1.5" height="4.4" fill="#222422"/>
<rect x="256.72" y="172.6" width="0.6" height="6.0" fill="#6a6e6a" fill-opacity="0.75"/>
<rect x="256.27" y="174.4" width="1.5" height="3.9" fill="#222422"/>
<rect x="258.45" y="175.6" width="0.6" height="4.0" fill="#6a6e6a" fill-opacity="0.75"/>
<rect x="258.00" y="176.9" width="1.5" height="2.4" fill="#6c706c"/>
<rect x="260.18" y="174.4" width="0.6" height="2.8" fill="#6a6e6a" fill-opacity="0.75"/>
<rect x="259.73" y="175.2" width="1.5" height="1.7" fill="#6c706c"/>
<rect x="261.91" y="173.3" width="0.6" height="2.2" fill="#6a6e6a" fill-opacity="0.75"/>
<rect x="261.46" y="173.8" width="1.5" height="1.3" fill="#6c706c"/>
<rect x="263.64" y="172.4" width="0.6" height="1.9" fill="#6a6e6a" fill-opacity="0.75"/>
<rect x="263.19" y="172.7" width="1.5" height="1.1" fill="#6c706c"/>
<rect x="265.37" y="168.1" width="0.6" height="5.0" fill="#6a6e6a" fill-opacity="0.75"/>
<rect x="264.92" y="170.4" width="1.5" height="2.3" fill="#6c706c"/>
<rect x="267.10" y="168.7" width="0.6" height="7.8" fill="#6a6e6a" fill-opacity="0.75"/>
<rect x="266.65" y="170.3" width="1.5" height="5.7" fill="#222422"/>
<rect x="268.83" y="175.0" width="0.6" height="8.2" fill="#6a6e6a" fill-opacity="0.75"/>
<rect x="268.38" y="176.0" width="1.5" height="6.6" fill="#222422"/>
<rect x="270.56" y="181.9" width="0.6" height="3.6" fill="#6a6e6a" fill-opacity="0.75"/>
<rect x="270.11" y="182.6" width="1.5" height="2.2" fill="#222422"/>
<rect x="272.29" y="184.4" width="0.6" height="7.6" fill="#6a6e6a" fill-opacity="0.75"/>
<rect x="271.84" y="184.8" width="1.5" height="6.4" fill="#222422"/>
<rect x="274.02" y="180.4" width="0.6" height="10.4" fill="#6a6e6a" fill-opacity="0.75"/>
<rect x="273.57" y="180.7" width="1.5" height="9.1" fill="#6c706c"/>
<rect x="275.75" y="183.3" width="0.6" height="6.1" fill="#6a6e6a" fill-opacity="0.75"/>
<rect x="275.30" y="185.4" width="1.5" height="3.1" fill="#222422"/>
<rect x="277.48" y="186.8" width="0.6" height="3.6" fill="#6a6e6a" fill-opacity="0.75"/>
<rect x="277.03" y="188.2" width="1.5" height="1.0" fill="#222422"/>
<rect x="279.21" y="186.3" width="0.6" height="3.4" fill="#6a6e6a" fill-opacity="0.75"/>
<rect x="278.76" y="187.2" width="1.5" height="1.2" fill="#6c706c"/>
<rect x="280.94" y="185.5" width="0.6" height="3.2" fill="#6a6e6a" fill-opacity="0.75"/>
<rect x="280.49" y="186.1" width="1.5" height="1.2" fill="#6c706c"/>
<rect x="282.67" y="184.8" width="0.6" height="3.0" fill="#6a6e6a" fill-opacity="0.75"/>
<rect x="282.22" y="185.2" width="1.5" height="1.0" fill="#6c706c"/>
<rect x="284.40" y="179.3" width="0.6" height="7.8" fill="#6a6e6a" fill-opacity="0.75"/>
<rect x="283.95" y="179.6" width="1.5" height="5.7" fill="#6c706c"/>
<rect x="286.13" y="176.8" width="0.6" height="4.9" fill="#6a6e6a" fill-opacity="0.75"/>
<rect x="285.68" y="178.6" width="1.5" height="1.0" fill="#6c706c"/>
<rect x="287.86" y="176.7" width="0.6" height="4.5" fill="#6a6e6a" fill-opacity="0.75"/>
<rect x="287.41" y="177.9" width="1.5" height="1.0" fill="#6c706c"/>
<rect x="289.59" y="176.7" width="0.6" height="2.1" fill="#6a6e6a" fill-opacity="0.75"/>
<rect x="289.14" y="177.5" width="1.5" height="1.0" fill="#6c706c"/>
<rect x="291.32" y="176.8" width="0.6" height="1.8" fill="#6a6e6a" fill-opacity="0.75"/>
<rect x="290.87" y="177.3" width="1.5" height="1.0" fill="#222422"/>
<rect x="293.05" y="177.3" width="0.6" height="1.7" fill="#6a6e6a" fill-opacity="0.75"/>
<rect x="292.60" y="177.6" width="1.5" height="1.0" fill="#222422"/>
<rect x="294.78" y="176.2" width="0.6" height="6.7" fill="#6a6e6a" fill-opacity="0.75"/>
<rect x="294.33" y="178.4" width="1.5" height="4.1" fill="#222422"/>
<rect x="296.51" y="180.9" width="0.6" height="7.9" fill="#6a6e6a" fill-opacity="0.75"/>
<rect x="296.06" y="182.5" width="1.5" height="5.9" fill="#222422"/>
<rect x="298.24" y="183.4" width="0.6" height="6.0" fill="#6a6e6a" fill-opacity="0.75"/>
<rect x="297.79" y="184.5" width="1.5" height="4.5" fill="#6c706c"/>
<rect x="299.97" y="182.6" width="0.6" height="2.4" fill="#6a6e6a" fill-opacity="0.75"/>
<rect x="299.52" y="183.3" width="1.5" height="1.2" fill="#6c706c"/>
<rect x="301.70" y="182.3" width="0.6" height="2.0" fill="#6a6e6a" fill-opacity="0.75"/>
<rect x="301.25" y="182.7" width="1.5" height="1.0" fill="#222422"/>
<rect x="303.43" y="182.7" width="0.6" height="2.0" fill="#6a6e6a" fill-opacity="0.75"/>
<rect x="302.98" y="183.0" width="1.5" height="1.0" fill="#6c706c"/>
<rect x="305.16" y="180.1" width="0.6" height="3.9" fill="#6a6e6a" fill-opacity="0.75"/>
<rect x="304.71" y="182.1" width="1.5" height="1.1" fill="#6c706c"/>
<rect x="306.89" y="180.0" width="0.6" height="3.3" fill="#6a6e6a" fill-opacity="0.75"/>
<rect x="306.44" y="181.4" width="1.5" height="1.0" fill="#6c706c"/>
<rect x="308.62" y="180.6" width="0.6" height="4.7" fill="#6a6e6a" fill-opacity="0.75"/>
<rect x="308.17" y="181.5" width="1.5" height="2.8" fill="#222422"/>
<rect x="310.35" y="183.7" width="0.6" height="3.1" fill="#6a6e6a" fill-opacity="0.75"/>
<rect x="309.90" y="184.3" width="1.5" height="1.3" fill="#222422"/>
<rect x="312.08" y="185.2" width="0.6" height="4.9" fill="#6a6e6a" fill-opacity="0.75"/>
<rect x="311.63" y="185.6" width="1.5" height="3.2" fill="#222422"/>
<rect x="313.81" y="187.4" width="0.6" height="3.8" fill="#6a6e6a" fill-opacity="0.75"/>
<rect x="313.36" y="187.7" width="1.5" height="2.0" fill="#6c706c"/>
<rect x="315.54" y="179.7" width="0.6" height="9.6" fill="#6a6e6a" fill-opacity="0.75"/>
<rect x="315.09" y="181.5" width="1.5" height="6.2" fill="#6c706c"/>
<rect x="317.27" y="181.5" width="0.6" height="19.2" fill="#6a6e6a" fill-opacity="0.75"/>
<rect x="316.82" y="182.7" width="1.5" height="16.2" fill="#222422"/>
<rect x="319.00" y="198.1" width="0.6" height="11.2" fill="#6a6e6a" fill-opacity="0.75"/>
<rect x="318.55" y="198.9" width="1.5" height="8.3" fill="#222422"/>
<rect x="320.73" y="202.1" width="0.6" height="6.7" fill="#6a6e6a" fill-opacity="0.75"/>
<rect x="320.28" y="202.6" width="1.5" height="4.0" fill="#6c706c"/>
<rect x="322.46" y="178.0" width="0.6" height="24.9" fill="#6a6e6a" fill-opacity="0.75"/>
<rect x="322.01" y="178.3" width="1.5" height="24.3" fill="#6c706c"/>
<rect x="324.19" y="163.0" width="0.6" height="15.6" fill="#6a6e6a" fill-opacity="0.75"/>
<rect x="323.74" y="165.3" width="1.5" height="13.1" fill="#6c706c"/>
<rect x="325.92" y="162.4" width="0.6" height="7.2" fill="#6a6e6a" fill-opacity="0.75"/>
<rect x="325.47" y="164.0" width="1.5" height="5.3" fill="#222422"/>
<rect x="327.65" y="168.2" width="0.6" height="4.3" fill="#6a6e6a" fill-opacity="0.75"/>
<rect x="327.20" y="169.3" width="1.5" height="2.9" fill="#222422"/>
<rect x="329.38" y="171.5" width="0.6" height="3.1" fill="#6a6e6a" fill-opacity="0.75"/>
<rect x="328.93" y="172.2" width="1.5" height="2.0" fill="#222422"/>
<rect x="331.11" y="173.7" width="0.6" height="1.9" fill="#6a6e6a" fill-opacity="0.75"/>
<rect x="330.66" y="174.1" width="1.5" height="1.1" fill="#222422"/>
<rect x="332.84" y="173.9" width="0.6" height="1.8" fill="#6a6e6a" fill-opacity="0.75"/>
<rect x="332.39" y="174.2" width="1.5" height="1.0" fill="#6c706c"/>
<rect x="334.57" y="165.7" width="0.6" height="9.3" fill="#6a6e6a" fill-opacity="0.75"/>
<rect x="334.12" y="167.7" width="1.5" height="6.6" fill="#6c706c"/>
<rect x="336.30" y="163.4" width="0.6" height="5.0" fill="#6a6e6a" fill-opacity="0.75"/>
<rect x="335.85" y="164.8" width="1.5" height="2.9" fill="#6c706c"/>
<rect x="338.03" y="165.8" width="0.6" height="11.8" fill="#6a6e6a" fill-opacity="0.75"/>
<rect x="337.58" y="166.7" width="1.5" height="10.1" fill="#6c706c"/>
<rect x="339.76" y="160.2" width="0.6" height="7.4" fill="#6a6e6a" fill-opacity="0.75"/>
<rect x="339.31" y="160.8" width="1.5" height="5.9" fill="#6c706c"/>
<rect x="341.49" y="163.1" width="0.6" height="13.2" fill="#6a6e6a" fill-opacity="0.75"/>
<rect x="341.04" y="163.5" width="1.5" height="11.7" fill="#222422"/>
<rect x="343.22" y="155.9" width="0.6" height="17.2" fill="#6a6e6a" fill-opacity="0.75"/>
<rect x="342.77" y="156.2" width="1.5" height="15.7" fill="#6c706c"/>
<rect x="344.95" y="143.0" width="0.6" height="14.5" fill="#6a6e6a" fill-opacity="0.75"/>
<rect x="344.50" y="144.8" width="1.5" height="11.4" fill="#6c706c"/>
<rect x="346.68" y="144.5" width="0.6" height="4.4" fill="#6a6e6a" fill-opacity="0.75"/>
<rect x="346.23" y="145.7" width="1.5" height="1.6" fill="#222422"/>
<rect x="348.41" y="146.6" width="0.6" height="3.6" fill="#6a6e6a" fill-opacity="0.75"/>
<rect x="347.96" y="147.4" width="1.5" height="1.2" fill="#222422"/>
<rect x="350.14" y="147.9" width="0.6" height="3.4" fill="#6a6e6a" fill-opacity="0.75"/>
<rect x="349.69" y="148.4" width="1.5" height="1.0" fill="#222422"/>
<rect x="351.87" y="148.8" width="0.6" height="3.4" fill="#6a6e6a" fill-opacity="0.75"/>
<rect x="351.42" y="149.1" width="1.5" height="1.0" fill="#222422"/>
<rect x="353.60" y="147.8" width="0.6" height="5.7" fill="#6a6e6a" fill-opacity="0.75"/>
<rect x="353.15" y="150.0" width="1.5" height="1.2" fill="#222422"/>
<rect x="355.33" y="141.4" width="0.6" height="10.1" fill="#6a6e6a" fill-opacity="0.75"/>
<rect x="354.88" y="143.0" width="1.5" height="8.2" fill="#6c706c"/>
<rect x="357.06" y="136.0" width="0.6" height="7.3" fill="#6a6e6a" fill-opacity="0.75"/>
<rect x="356.61" y="137.1" width="1.5" height="6.0" fill="#6c706c"/>
<rect x="358.79" y="131.1" width="0.6" height="6.3" fill="#6a6e6a" fill-opacity="0.75"/>
<rect x="358.34" y="131.8" width="1.5" height="5.3" fill="#6c706c"/>
<rect x="360.52" y="125.7" width="0.6" height="6.4" fill="#6a6e6a" fill-opacity="0.75"/>
<rect x="360.07" y="126.1" width="1.5" height="5.7" fill="#6c706c"/>
<rect x="362.25" y="129.3" width="0.6" height="9.0" fill="#6a6e6a" fill-opacity="0.75"/>
<rect x="361.80" y="129.6" width="1.5" height="8.3" fill="#222422"/>
<rect x="363.98" y="135.9" width="0.6" height="8.0" fill="#6a6e6a" fill-opacity="0.75"/>
<rect x="363.53" y="137.9" width="1.5" height="5.5" fill="#222422"/>
<rect x="365.71" y="141.8" width="0.6" height="2.9" fill="#6a6e6a" fill-opacity="0.75"/>
<rect x="365.26" y="143.2" width="1.5" height="1.0" fill="#222422"/>
<rect x="367.44" y="140.4" width="0.6" height="3.8" fill="#6a6e6a" fill-opacity="0.75"/>
<rect x="366.99" y="141.3" width="1.5" height="2.2" fill="#6c706c"/>
<rect x="369.17" y="139.7" width="0.6" height="3.3" fill="#6a6e6a" fill-opacity="0.75"/>
<rect x="368.72" y="140.3" width="1.5" height="2.1" fill="#222422"/>
<rect x="370.90" y="142.0" width="0.6" height="2.8" fill="#6a6e6a" fill-opacity="0.75"/>
<rect x="370.45" y="142.4" width="1.5" height="1.6" fill="#222422"/>
<rect x="372.63" y="142.8" width="0.6" height="2.2" fill="#6a6e6a" fill-opacity="0.75"/>
<rect x="372.18" y="143.1" width="1.5" height="1.0" fill="#6c706c"/>
<rect x="374.36" y="141.5" width="0.6" height="4.4" fill="#6a6e6a" fill-opacity="0.75"/>
<rect x="373.91" y="143.3" width="1.5" height="1.6" fill="#222422"/>
<rect x="376.09" y="143.7" width="0.6" height="4.0" fill="#6a6e6a" fill-opacity="0.75"/>
<rect x="375.64" y="144.9" width="1.5" height="1.6" fill="#222422"/>
<rect x="377.82" y="145.4" width="0.6" height="3.1" fill="#6a6e6a" fill-opacity="0.75"/>
<rect x="377.37" y="146.2" width="1.5" height="1.0" fill="#222422"/>
<rect x="379.55" y="141.2" width="0.6" height="7.3" fill="#6a6e6a" fill-opacity="0.75"/>
<rect x="379.10" y="141.7" width="1.5" height="5.3" fill="#6c706c"/>
<rect x="381.28" y="134.6" width="0.6" height="8.8" fill="#6a6e6a" fill-opacity="0.75"/>
<rect x="380.83" y="134.9" width="1.5" height="6.8" fill="#6c706c"/>
<rect x="383.01" y="130.6" width="0.6" height="15.1" fill="#6a6e6a" fill-opacity="0.75"/>
<rect x="382.56" y="132.8" width="1.5" height="11.0" fill="#222422"/>
<rect x="384.74" y="142.2" width="0.6" height="7.6" fill="#6a6e6a" fill-opacity="0.75"/>
<rect x="384.29" y="143.8" width="1.5" height="4.0" fill="#222422"/>
<rect x="386.47" y="140.4" width="0.6" height="8.5" fill="#6a6e6a" fill-opacity="0.75"/>
<rect x="386.02" y="141.5" width="1.5" height="5.1" fill="#6c706c"/>
<rect x="388.20" y="139.3" width="0.6" height="2.5" fill="#6a6e6a" fill-opacity="0.75"/>
<rect x="387.75" y="140.0" width="1.5" height="1.5" fill="#6c706c"/>
<rect x="389.93" y="136.4" width="0.6" height="3.9" fill="#6a6e6a" fill-opacity="0.75"/>
<rect x="389.48" y="136.8" width="1.5" height="3.2" fill="#6c706c"/>
<rect x="391.66" y="134.5" width="0.6" height="2.6" fill="#6a6e6a" fill-opacity="0.75"/>
<rect x="391.21" y="134.8" width="1.5" height="2.0" fill="#6c706c"/>
<rect x="393.39" y="131.6" width="0.6" height="3.6" fill="#6a6e6a" fill-opacity="0.75"/>
<rect x="392.94" y="133.6" width="1.5" height="1.3" fill="#6c706c"/>
<rect x="395.12" y="131.2" width="0.6" height="2.8" fill="#6a6e6a" fill-opacity="0.75"/>
<rect x="394.67" y="132.6" width="1.5" height="1.0" fill="#6c706c"/>
<rect x="396.85" y="130.7" width="0.6" height="2.5" fill="#6a6e6a" fill-opacity="0.75"/>
<rect x="396.40" y="131.6" width="1.5" height="1.1" fill="#6c706c"/>
<rect x="398.58" y="129.3" width="0.6" height="2.8" fill="#6a6e6a" fill-opacity="0.75"/>
<rect x="398.13" y="129.9" width="1.5" height="1.7" fill="#6c706c"/>
<rect x="400.31" y="129.6" width="0.6" height="3.2" fill="#6a6e6a" fill-opacity="0.75"/>
<rect x="399.86" y="130.0" width="1.5" height="2.3" fill="#222422"/>
<rect x="402.04" y="131.9" width="0.6" height="3.7" fill="#6a6e6a" fill-opacity="0.75"/>
<rect x="401.59" y="132.2" width="1.5" height="2.7" fill="#222422"/>
<rect x="403.77" y="126.1" width="0.6" height="11.3" fill="#6a6e6a" fill-opacity="0.75"/>
<rect x="403.32" y="127.9" width="1.5" height="8.7" fill="#6c706c"/>
<rect x="405.50" y="117.0" width="0.6" height="11.8" fill="#6a6e6a" fill-opacity="0.75"/>
<rect x="405.05" y="118.2" width="1.5" height="9.7" fill="#6c706c"/>
<rect x="407.23" y="114.2" width="0.6" height="5.1" fill="#6a6e6a" fill-opacity="0.75"/>
<rect x="406.78" y="114.9" width="1.5" height="3.2" fill="#6c706c"/>
<rect x="408.96" y="113.6" width="0.6" height="2.7" fill="#6a6e6a" fill-opacity="0.75"/>
<rect x="408.51" y="114.1" width="1.5" height="1.0" fill="#6c706c"/>
<rect x="410.69" y="114.0" width="0.6" height="2.7" fill="#6a6e6a" fill-opacity="0.75"/>
<rect x="410.24" y="114.3" width="1.5" height="1.0" fill="#222422"/>
<rect x="412.42" y="112.8" width="0.6" height="4.9" fill="#6a6e6a" fill-opacity="0.75"/>
<rect x="411.97" y="115.1" width="1.5" height="1.1" fill="#222422"/>
<rect x="414.15" y="113.8" width="0.6" height="4.3" fill="#6a6e6a" fill-opacity="0.75"/>
<rect x="413.70" y="115.4" width="1.5" height="1.0" fill="#6c706c"/>
<rect x="415.88" y="113.5" width="0.6" height="3.9" fill="#6a6e6a" fill-opacity="0.75"/>
<rect x="415.43" y="114.6" width="1.5" height="1.0" fill="#6c706c"/>
<rect x="417.61" y="113.3" width="0.6" height="3.7" fill="#6a6e6a" fill-opacity="0.75"/>
<rect x="417.16" y="114.0" width="1.5" height="1.0" fill="#6c706c"/>
<rect x="419.34" y="113.5" width="0.6" height="3.7" fill="#6a6e6a" fill-opacity="0.75"/>
<rect x="418.89" y="113.9" width="1.5" height="1.0" fill="#222422"/>
<rect x="421.07" y="114.3" width="0.6" height="3.6" fill="#6a6e6a" fill-opacity="0.75"/>
<rect x="420.62" y="114.6" width="1.5" height="2.9" fill="#222422"/>
<rect x="422.80" y="115.5" width="0.6" height="7.2" fill="#6a6e6a" fill-opacity="0.75"/>
<rect x="422.35" y="117.5" width="1.5" height="4.9" fill="#222422"/>
<rect x="424.53" y="121.0" width="0.6" height="4.0" fill="#6a6e6a" fill-opacity="0.75"/>
<rect x="424.08" y="122.4" width="1.5" height="2.3" fill="#222422"/>
<rect x="426.26" y="123.8" width="0.6" height="3.5" fill="#6a6e6a" fill-opacity="0.75"/>
<rect x="425.81" y="124.7" width="1.5" height="2.2" fill="#222422"/>
<rect x="427.99" y="118.8" width="0.6" height="7.8" fill="#6a6e6a" fill-opacity="0.75"/>
<rect x="427.54" y="119.4" width="1.5" height="6.9" fill="#6c706c"/>
<rect x="429.72" y="119.7" width="0.6" height="3.3" fill="#6a6e6a" fill-opacity="0.75"/>
<rect x="429.27" y="120.1" width="1.5" height="2.4" fill="#222422"/>
<rect x="431.45" y="121.8" width="0.6" height="1.8" fill="#6a6e6a" fill-opacity="0.75"/>
<rect x="431.00" y="122.1" width="1.5" height="1.0" fill="#6c706c"/>
<rect x="433.18" y="117.7" width="0.6" height="5.2" fill="#6a6e6a" fill-opacity="0.75"/>
<rect x="432.73" y="119.4" width="1.5" height="2.8" fill="#6c706c"/>
<rect x="434.91" y="115.4" width="0.6" height="4.8" fill="#6a6e6a" fill-opacity="0.75"/>
<rect x="434.46" y="116.6" width="1.5" height="2.9" fill="#6c706c"/>
<rect x="436.64" y="115.4" width="0.6" height="4.5" fill="#6a6e6a" fill-opacity="0.75"/>
<rect x="436.19" y="116.2" width="1.5" height="2.9" fill="#222422"/>
<rect x="438.37" y="118.6" width="0.6" height="3.8" fill="#6a6e6a" fill-opacity="0.75"/>
<rect x="437.92" y="119.1" width="1.5" height="2.4" fill="#222422"/>
<rect x="440.10" y="119.9" width="0.6" height="3.3" fill="#6a6e6a" fill-opacity="0.75"/>
<rect x="439.65" y="120.3" width="1.5" height="1.9" fill="#6c706c"/>
<rect x="441.83" y="116.4" width="0.6" height="5.0" fill="#6a6e6a" fill-opacity="0.75"/>
<rect x="441.38" y="118.7" width="1.5" height="1.6" fill="#6c706c"/>
<rect x="443.56" y="116.3" width="0.6" height="3.9" fill="#6a6e6a" fill-opacity="0.75"/>
<rect x="443.11" y="117.9" width="1.5" height="1.0" fill="#6c706c"/>
<rect x="445.29" y="117.2" width="0.6" height="10.8" fill="#6a6e6a" fill-opacity="0.75"/>
<rect x="444.84" y="118.3" width="1.5" height="8.2" fill="#222422"/>
<rect x="447.02" y="125.8" width="0.6" height="4.8" fill="#6a6e6a" fill-opacity="0.75"/>
<rect x="446.57" y="126.5" width="1.5" height="2.4" fill="#222422"/>
<rect x="448.75" y="135.9" width="0.6" height="8.4" fill="#6a6e6a" fill-opacity="0.75"/>
<rect x="448.30" y="136.3" width="1.5" height="6.1" fill="#222422"/>
<rect x="450.48" y="142.1" width="0.6" height="6.8" fill="#6a6e6a" fill-opacity="0.75"/>
<rect x="450.03" y="142.4" width="1.5" height="4.4" fill="#222422"/>
<rect x="452.21" y="139.2" width="0.6" height="7.9" fill="#6a6e6a" fill-opacity="0.75"/>
<rect x="451.76" y="141.2" width="1.5" height="3.6" fill="#6c706c"/>
<rect x="453.94" y="139.4" width="0.6" height="2.8" fill="#6a6e6a" fill-opacity="0.75"/>
<rect x="453.49" y="140.8" width="1.5" height="1.1" fill="#222422"/>
<rect x="455.67" y="141.0" width="0.6" height="4.6" fill="#6a6e6a" fill-opacity="0.75"/>
<rect x="455.22" y="141.9" width="1.5" height="3.4" fill="#222422"/>
<rect x="457.40" y="140.2" width="0.6" height="4.9" fill="#6a6e6a" fill-opacity="0.75"/>
<rect x="456.95" y="140.7" width="1.5" height="4.0" fill="#6c706c"/>
<rect x="459.13" y="139.6" width="0.6" height="1.7" fill="#6a6e6a" fill-opacity="0.75"/>
<rect x="458.68" y="140.0" width="1.5" height="1.0" fill="#6c706c"/>
<rect x="460.86" y="139.8" width="0.6" height="4.2" fill="#6a6e6a" fill-opacity="0.75"/>
<rect x="460.41" y="140.1" width="1.5" height="3.5" fill="#222422"/>
<rect x="462.59" y="141.8" width="0.6" height="7.2" fill="#6a6e6a" fill-opacity="0.75"/>
<rect x="462.14" y="143.6" width="1.5" height="5.0" fill="#222422"/>
<rect x="464.32" y="147.4" width="0.6" height="5.3" fill="#6a6e6a" fill-opacity="0.75"/>
<rect x="463.87" y="148.6" width="1.5" height="3.5" fill="#222422"/>
<rect x="466.05" y="151.4" width="0.6" height="14.2" fill="#6a6e6a" fill-opacity="0.75"/>
<rect x="465.60" y="152.2" width="1.5" height="12.8" fill="#222422"/>
<rect x="467.78" y="164.4" width="0.6" height="4.1" fill="#6a6e6a" fill-opacity="0.75"/>
<rect x="467.33" y="164.9" width="1.5" height="2.9" fill="#222422"/>
<rect x="469.51" y="163.1" width="0.6" height="5.6" fill="#6a6e6a" fill-opacity="0.75"/>
<rect x="469.06" y="163.4" width="1.5" height="4.5" fill="#6c706c"/>
<rect x="471.24" y="162.3" width="0.6" height="10.6" fill="#6a6e6a" fill-opacity="0.75"/>
<rect x="470.79" y="164.5" width="1.5" height="7.4" fill="#222422"/>
<rect x="472.97" y="170.3" width="0.6" height="7.9" fill="#6a6e6a" fill-opacity="0.75"/>
<rect x="472.52" y="171.9" width="1.5" height="5.3" fill="#222422"/>
<rect x="474.70" y="169.9" width="0.6" height="8.8" fill="#6a6e6a" fill-opacity="0.75"/>
<rect x="474.25" y="171.0" width="1.5" height="6.6" fill="#6c706c"/>
<rect x="476.43" y="165.0" width="0.6" height="7.3" fill="#6a6e6a" fill-opacity="0.75"/>
<rect x="475.98" y="165.7" width="1.5" height="5.3" fill="#6c706c"/>
<rect x="478.16" y="163.1" width="0.6" height="4.1" fill="#6a6e6a" fill-opacity="0.75"/>
<rect x="477.71" y="163.5" width="1.5" height="2.2" fill="#6c706c"/>
<rect x="479.89" y="163.1" width="0.6" height="5.7" fill="#6a6e6a" fill-opacity="0.75"/>
<rect x="479.44" y="163.4" width="1.5" height="3.7" fill="#222422"/>
<rect x="481.62" y="165.1" width="0.6" height="10.3" fill="#6a6e6a" fill-opacity="0.75"/>
<rect x="481.17" y="167.1" width="1.5" height="6.4" fill="#222422"/>
<rect x="483.35" y="172.1" width="0.6" height="4.6" fill="#6a6e6a" fill-opacity="0.75"/>
<rect x="482.90" y="173.5" width="1.5" height="1.1" fill="#222422"/>
<rect x="485.08" y="172.5" width="0.6" height="4.2" fill="#6a6e6a" fill-opacity="0.75"/>
<rect x="484.63" y="173.4" width="1.5" height="1.0" fill="#6c706c"/>
<rect x="486.81" y="168.0" width="0.6" height="5.8" fill="#6a6e6a" fill-opacity="0.75"/>
<rect x="486.36" y="168.6" width="1.5" height="4.9" fill="#6c706c"/>
<rect x="488.54" y="164.5" width="0.6" height="4.3" fill="#6a6e6a" fill-opacity="0.75"/>
<rect x="488.09" y="164.9" width="1.5" height="3.7" fill="#6c706c"/>
<rect x="490.27" y="164.7" width="0.6" height="2.8" fill="#6a6e6a" fill-opacity="0.75"/>
<rect x="489.82" y="165.0" width="1.5" height="2.2" fill="#222422"/>
<rect x="492.00" y="163.5" width="0.6" height="3.9" fill="#6a6e6a" fill-opacity="0.75"/>
<rect x="491.55" y="165.3" width="1.5" height="1.7" fill="#6c706c"/>
<rect x="493.73" y="157.8" width="0.6" height="8.0" fill="#6a6e6a" fill-opacity="0.75"/>
<rect x="493.28" y="159.0" width="1.5" height="6.3" fill="#6c706c"/>
<rect x="495.46" y="159.9" width="0.6" height="9.5" fill="#6a6e6a" fill-opacity="0.75"/>
<rect x="495.01" y="160.6" width="1.5" height="8.3" fill="#222422"/>
<rect x="497.19" y="168.5" width="0.6" height="4.7" fill="#6a6e6a" fill-opacity="0.75"/>
<rect x="496.74" y="168.9" width="1.5" height="3.7" fill="#222422"/>
<rect x="498.92" y="171.5" width="0.6" height="2.2" fill="#6a6e6a" fill-opacity="0.75"/>
<rect x="498.47" y="171.8" width="1.5" height="1.3" fill="#6c706c"/>
<rect x="500.65" y="168.6" width="0.6" height="3.9" fill="#6a6e6a" fill-opacity="0.75"/>
<rect x="500.20" y="170.9" width="1.5" height="1.0" fill="#6c706c"/>
<rect x="502.38" y="170.1" width="0.6" height="4.1" fill="#6a6e6a" fill-opacity="0.75"/>
<rect x="501.93" y="171.7" width="1.5" height="1.7" fill="#222422"/>
<rect x="504.11" y="172.3" width="0.6" height="3.8" fill="#6a6e6a" fill-opacity="0.75"/>
<rect x="503.66" y="173.4" width="1.5" height="1.8" fill="#222422"/>
<rect x="505.84" y="174.1" width="0.6" height="2.7" fill="#6a6e6a" fill-opacity="0.75"/>
<rect x="505.39" y="174.8" width="1.5" height="1.0" fill="#222422"/>
<rect x="507.57" y="174.4" width="0.6" height="2.6" fill="#6a6e6a" fill-opacity="0.75"/>
<rect x="507.12" y="174.9" width="1.5" height="1.0" fill="#6c706c"/>
<rect x="509.30" y="174.2" width="0.6" height="2.6" fill="#6a6e6a" fill-opacity="0.75"/>
<rect x="508.85" y="174.5" width="1.5" height="1.0" fill="#6c706c"/>
<rect x="511.03" y="172.6" width="0.6" height="6.5" fill="#6a6e6a" fill-opacity="0.75"/>
<rect x="510.58" y="174.6" width="1.5" height="3.0" fill="#222422"/>
<rect x="512.76" y="176.2" width="0.6" height="10.8" fill="#6a6e6a" fill-opacity="0.75"/>
<rect x="512.31" y="177.6" width="1.5" height="7.7" fill="#222422"/>
<rect x="514.49" y="184.4" width="0.6" height="9.7" fill="#6a6e6a" fill-opacity="0.75"/>
<rect x="514.04" y="185.3" width="1.5" height="7.0" fill="#222422"/>
<rect x="516.22" y="190.0" width="0.6" height="5.4" fill="#6a6e6a" fill-opacity="0.75"/>
<rect x="515.77" y="190.5" width="1.5" height="2.8" fill="#6c706c"/>
<rect x="517.95" y="182.4" width="0.6" height="10.4" fill="#6a6e6a" fill-opacity="0.75"/>
<rect x="517.50" y="182.8" width="1.5" height="7.7" fill="#6c706c"/>
<rect x="519.68" y="187.1" width="0.6" height="6.1" fill="#6a6e6a" fill-opacity="0.75"/>
<rect x="519.23" y="187.4" width="1.5" height="5.5" fill="#222422"/>
<rect x="521.41" y="190.6" width="0.6" height="3.1" fill="#6a6e6a" fill-opacity="0.75"/>
<rect x="520.96" y="192.4" width="1.5" height="1.0" fill="#6c706c"/>
<rect x="523.14" y="191.3" width="0.6" height="7.6" fill="#6a6e6a" fill-opacity="0.75"/>
<rect x="522.69" y="192.5" width="1.5" height="6.1" fill="#222422"/>
<rect x="524.87" y="197.8" width="0.6" height="3.3" fill="#6a6e6a" fill-opacity="0.75"/>
<rect x="524.42" y="198.6" width="1.5" height="2.1" fill="#222422"/>
<rect x="526.60" y="197.2" width="0.6" height="3.3" fill="#6a6e6a" fill-opacity="0.75"/>
<rect x="526.15" y="197.6" width="1.5" height="2.4" fill="#6c706c"/>
<rect x="528.33" y="196.6" width="0.6" height="1.8" fill="#6a6e6a" fill-opacity="0.75"/>
<rect x="527.88" y="196.9" width="1.5" height="1.0" fill="#6c706c"/>
<rect x="530.06" y="194.2" width="0.6" height="3.8" fill="#6a6e6a" fill-opacity="0.75"/>
<rect x="529.61" y="196.4" width="1.5" height="1.0" fill="#6c706c"/>
<rect x="531.79" y="193.0" width="0.6" height="4.2" fill="#6a6e6a" fill-opacity="0.75"/>
<rect x="531.34" y="194.6" width="1.5" height="2.0" fill="#6c706c"/>
<rect x="533.52" y="190.7" width="0.6" height="7.6" fill="#6a6e6a" fill-opacity="0.75"/>
<rect x="533.07" y="191.8" width="1.5" height="5.8" fill="#222422"/>
<rect x="535.25" y="196.9" width="0.6" height="6.0" fill="#6a6e6a" fill-opacity="0.75"/>
<rect x="534.80" y="197.6" width="1.5" height="4.6" fill="#222422"/>
<rect x="536.98" y="192.9" width="0.6" height="10.1" fill="#6a6e6a" fill-opacity="0.75"/>
<rect x="536.53" y="193.3" width="1.5" height="8.8" fill="#6c706c"/>
<rect x="538.71" y="195.2" width="0.6" height="5.2" fill="#6a6e6a" fill-opacity="0.75"/>
<rect x="538.26" y="195.5" width="1.5" height="3.8" fill="#222422"/>
<rect x="540.44" y="193.0" width="0.6" height="5.9" fill="#6a6e6a" fill-opacity="0.75"/>
<rect x="539.99" y="195.0" width="1.5" height="2.7" fill="#6c706c"/>
<rect x="542.17" y="179.9" width="0.6" height="16.5" fill="#6a6e6a" fill-opacity="0.75"/>
<rect x="541.72" y="181.3" width="1.5" height="13.7" fill="#6c706c"/>
<rect x="543.90" y="181.2" width="0.6" height="8.6" fill="#6a6e6a" fill-opacity="0.75"/>
<rect x="543.45" y="182.1" width="1.5" height="6.1" fill="#222422"/>
<rect x="545.63" y="187.7" width="0.6" height="5.9" fill="#6a6e6a" fill-opacity="0.75"/>
<rect x="545.18" y="188.3" width="1.5" height="3.7" fill="#222422"/>
<rect x="547.36" y="191.5" width="0.6" height="4.7" fill="#6a6e6a" fill-opacity="0.75"/>
<rect x="546.91" y="191.9" width="1.5" height="2.5" fill="#222422"/>
<rect x="549.09" y="194.1" width="0.6" height="4.8" fill="#6a6e6a" fill-opacity="0.75"/>
<rect x="548.64" y="194.4" width="1.5" height="2.4" fill="#222422"/>
<rect x="550.82" y="195.0" width="0.6" height="5.4" fill="#6a6e6a" fill-opacity="0.75"/>
<rect x="550.37" y="196.8" width="1.5" height="1.3" fill="#222422"/>
<rect x="552.55" y="196.9" width="0.6" height="2.9" fill="#6a6e6a" fill-opacity="0.75"/>
<rect x="552.10" y="198.1" width="1.5" height="1.4" fill="#222422"/>
<rect x="554.28" y="198.7" width="0.6" height="4.9" fill="#6a6e6a" fill-opacity="0.75"/>
<rect x="553.83" y="199.5" width="1.5" height="3.8" fill="#222422"/>
<rect x="556.01" y="199.1" width="0.6" height="3.6" fill="#6a6e6a" fill-opacity="0.75"/>
<rect x="555.56" y="199.6" width="1.5" height="2.8" fill="#6c706c"/>
<rect x="557.74" y="195.7" width="0.6" height="4.2" fill="#6a6e6a" fill-opacity="0.75"/>
<rect x="557.29" y="196.1" width="1.5" height="3.5" fill="#6c706c"/>
<rect x="559.47" y="189.1" width="0.6" height="16.1" fill="#6a6e6a" fill-opacity="0.75"/>
<rect x="559.02" y="191.3" width="1.5" height="13.5" fill="#222422"/>
<rect x="561.20" y="190.3" width="0.6" height="14.7" fill="#6a6e6a" fill-opacity="0.75"/>
<rect x="560.75" y="191.9" width="1.5" height="12.6" fill="#6c706c"/>
<rect x="562.93" y="186.1" width="0.6" height="6.3" fill="#6a6e6a" fill-opacity="0.75"/>
<rect x="562.48" y="187.2" width="1.5" height="4.7" fill="#6c706c"/>
<rect x="564.66" y="185.4" width="0.6" height="2.4" fill="#6a6e6a" fill-opacity="0.75"/>
<rect x="564.21" y="186.1" width="1.5" height="1.1" fill="#6c706c"/>
<rect x="566.39" y="185.6" width="0.6" height="2.1" fill="#6a6e6a" fill-opacity="0.75"/>
<rect x="565.94" y="186.1" width="1.5" height="1.0" fill="#222422"/>
<rect x="568.12" y="186.3" width="0.6" height="2.1" fill="#6a6e6a" fill-opacity="0.75"/>
<rect x="567.67" y="186.6" width="1.5" height="1.0" fill="#222422"/>
<rect x="569.85" y="185.4" width="0.6" height="6.1" fill="#6a6e6a" fill-opacity="0.75"/>
<rect x="569.40" y="187.4" width="1.5" height="3.1" fill="#222422"/>
<rect x="571.58" y="189.2" width="0.6" height="3.7" fill="#6a6e6a" fill-opacity="0.75"/>
<rect x="571.13" y="190.5" width="1.5" height="1.3" fill="#222422"/>
<rect x="573.31" y="190.5" width="0.6" height="3.1" fill="#6a6e6a" fill-opacity="0.75"/>
<rect x="572.86" y="191.5" width="1.5" height="1.0" fill="#222422"/>
<rect x="575.04" y="190.6" width="0.6" height="2.9" fill="#6a6e6a" fill-opacity="0.75"/>
<rect x="574.59" y="191.1" width="1.5" height="1.0" fill="#6c706c"/>
<rect x="576.77" y="190.3" width="0.6" height="2.9" fill="#6a6e6a" fill-opacity="0.75"/>
<rect x="576.32" y="190.6" width="1.5" height="1.0" fill="#6c706c"/>
<rect x="578.50" y="189.8" width="0.6" height="3.0" fill="#6a6e6a" fill-opacity="0.75"/>
<rect x="578.05" y="190.1" width="1.5" height="1.0" fill="#6c706c"/>
<rect x="580.23" y="187.8" width="0.6" height="4.7" fill="#6a6e6a" fill-opacity="0.75"/>
<rect x="579.78" y="189.6" width="1.5" height="1.0" fill="#6c706c"/>
<rect x="581.96" y="206.0" width="0.6" height="19.9" fill="#6a6e6a" fill-opacity="0.75"/>
<rect x="581.51" y="207.2" width="1.5" height="16.6" fill="#222422"/>
<rect x="583.69" y="223.0" width="0.6" height="7.0" fill="#6a6e6a" fill-opacity="0.75"/>
<rect x="583.24" y="223.8" width="1.5" height="3.9" fill="#222422"/>
<rect x="585.42" y="227.2" width="0.6" height="4.4" fill="#6a6e6a" fill-opacity="0.75"/>
<rect x="584.97" y="227.7" width="1.5" height="3.6" fill="#222422"/>
<rect x="587.15" y="231.0" width="0.6" height="2.9" fill="#6a6e6a" fill-opacity="0.75"/>
<rect x="586.70" y="231.3" width="1.5" height="2.3" fill="#222422"/>
<rect x="588.88" y="229.0" width="0.6" height="8.8" fill="#6a6e6a" fill-opacity="0.75"/>
<rect x="588.43" y="231.2" width="1.5" height="6.2" fill="#222422"/>
<rect x="590.61" y="235.8" width="0.6" height="3.7" fill="#6a6e6a" fill-opacity="0.75"/>
<rect x="590.16" y="237.4" width="1.5" height="1.8" fill="#222422"/>
<rect x="592.34" y="235.9" width="0.6" height="3.7" fill="#6a6e6a" fill-opacity="0.75"/>
<rect x="591.89" y="236.9" width="1.5" height="2.3" fill="#6c706c"/>
<rect x="594.07" y="235.3" width="0.6" height="2.5" fill="#6a6e6a" fill-opacity="0.75"/>
<rect x="593.62" y="236.0" width="1.5" height="1.4" fill="#222422"/>
<rect x="595.80" y="237.0" width="0.6" height="2.9" fill="#6a6e6a" fill-opacity="0.75"/>
<rect x="595.35" y="237.4" width="1.5" height="1.9" fill="#222422"/>
<rect x="597.53" y="238.8" width="0.6" height="1.9" fill="#6a6e6a" fill-opacity="0.75"/>
<rect x="597.08" y="239.1" width="1.5" height="1.0" fill="#222422"/>
<rect x="599.26" y="237.9" width="0.6" height="14.6" fill="#6a6e6a" fill-opacity="0.75"/>
<rect x="598.81" y="239.9" width="1.5" height="11.9" fill="#222422"/>
<rect x="600.99" y="250.4" width="0.6" height="14.7" fill="#6a6e6a" fill-opacity="0.75"/>
<rect x="600.54" y="251.8" width="1.5" height="12.5" fill="#222422"/>
<rect x="602.72" y="263.4" width="0.6" height="6.2" fill="#6a6e6a" fill-opacity="0.75"/>
<rect x="602.27" y="264.4" width="1.5" height="4.3" fill="#222422"/>
<rect x="604.45" y="233.8" width="0.6" height="17.4" fill="#6a6e6a" fill-opacity="0.75"/>
<rect x="604.00" y="234.4" width="1.5" height="15.8" fill="#222422"/>
<rect x="606.18" y="249.8" width="0.6" height="3.5" fill="#6a6e6a" fill-opacity="0.75"/>
<rect x="605.73" y="250.2" width="1.5" height="2.0" fill="#222422"/>
<rect x="607.91" y="251.8" width="0.6" height="9.7" fill="#6a6e6a" fill-opacity="0.75"/>
<rect x="607.46" y="252.1" width="1.5" height="8.0" fill="#222422"/>
<rect x="609.64" y="255.0" width="0.6" height="9.6" fill="#6a6e6a" fill-opacity="0.75"/>
<rect x="609.19" y="256.8" width="1.5" height="6.3" fill="#6c706c"/>
<rect x="611.37" y="254.7" width="0.6" height="7.5" fill="#6a6e6a" fill-opacity="0.75"/>
<rect x="610.92" y="255.9" width="1.5" height="4.6" fill="#222422"/>
<rect x="613.10" y="259.7" width="0.6" height="10.0" fill="#6a6e6a" fill-opacity="0.75"/>
<rect x="612.65" y="260.5" width="1.5" height="7.4" fill="#222422"/>
<rect x="614.83" y="265.0" width="0.6" height="4.9" fill="#6a6e6a" fill-opacity="0.75"/>
<rect x="614.38" y="265.5" width="1.5" height="2.3" fill="#6c706c"/>
<rect x="616.56" y="264.0" width="0.6" height="3.8" fill="#6a6e6a" fill-opacity="0.75"/>
<rect x="616.11" y="264.3" width="1.5" height="1.2" fill="#6c706c"/>
<rect x="618.29" y="261.0" width="0.6" height="3.6" fill="#6a6e6a" fill-opacity="0.75"/>
<rect x="617.84" y="263.3" width="1.5" height="1.0" fill="#6c706c"/>
<rect x="620.02" y="259.4" width="0.6" height="4.2" fill="#6a6e6a" fill-opacity="0.75"/>
<rect x="619.57" y="261.0" width="1.5" height="2.3" fill="#6c706c"/>
<rect x="621.75" y="259.6" width="0.6" height="11.3" fill="#6a6e6a" fill-opacity="0.75"/>
<rect x="621.30" y="260.7" width="1.5" height="9.9" fill="#222422"/>
<rect x="623.48" y="269.5" width="0.6" height="2.7" fill="#6a6e6a" fill-opacity="0.75"/>
<rect x="623.03" y="270.2" width="1.5" height="1.7" fill="#6c706c"/>
<rect x="625.21" y="256.3" width="0.6" height="14.3" fill="#6a6e6a" fill-opacity="0.75"/>
<rect x="624.76" y="256.7" width="1.5" height="13.5" fill="#6c706c"/>
<rect x="626.94" y="267.7" width="0.6" height="12.4" fill="#6a6e6a" fill-opacity="0.75"/>
<rect x="626.49" y="268.0" width="1.5" height="11.7" fill="#222422"/>
<rect x="628.67" y="277.7" width="0.6" height="8.7" fill="#6a6e6a" fill-opacity="0.75"/>
<rect x="628.22" y="279.7" width="1.5" height="6.2" fill="#222422"/>
<rect x="630.40" y="284.5" width="0.6" height="18.3" fill="#6a6e6a" fill-opacity="0.75"/>
<rect x="629.95" y="285.8" width="1.5" height="16.3" fill="#222422"/>
<rect x="632.13" y="288.6" width="0.6" height="15.2" fill="#6a6e6a" fill-opacity="0.75"/>
<rect x="631.68" y="289.5" width="1.5" height="13.6" fill="#6c706c"/>
<rect x="633.86" y="285.5" width="0.6" height="5.1" fill="#6a6e6a" fill-opacity="0.75"/>
<rect x="633.41" y="286.1" width="1.5" height="3.7" fill="#222422"/>
<rect x="635.59" y="289.4" width="0.6" height="4.4" fill="#6a6e6a" fill-opacity="0.75"/>
<rect x="635.14" y="289.8" width="1.5" height="3.1" fill="#222422"/>
<rect x="637.32" y="287.9" width="0.6" height="4.5" fill="#6a6e6a" fill-opacity="0.75"/>
<rect x="636.87" y="288.2" width="1.5" height="3.2" fill="#6c706c"/>
<rect x="639.05" y="281.8" width="0.6" height="7.6" fill="#6a6e6a" fill-opacity="0.75"/>
<rect x="638.60" y="283.6" width="1.5" height="4.6" fill="#6c706c"/>
<rect x="640.78" y="279.1" width="0.6" height="5.8" fill="#6a6e6a" fill-opacity="0.75"/>
<rect x="640.33" y="280.3" width="1.5" height="3.3" fill="#6c706c"/>
<rect x="642.51" y="277.1" width="0.6" height="4.8" fill="#6a6e6a" fill-opacity="0.75"/>
<rect x="642.06" y="277.9" width="1.5" height="2.5" fill="#6c706c"/>
<rect x="644.24" y="276.2" width="0.6" height="11.3" fill="#6a6e6a" fill-opacity="0.75"/>
<rect x="643.79" y="276.7" width="1.5" height="9.2" fill="#222422"/>
<rect x="645.97" y="285.5" width="0.6" height="17.7" fill="#6a6e6a" fill-opacity="0.75"/>
<rect x="645.52" y="285.9" width="1.5" height="15.5" fill="#222422"/>
<rect x="647.70" y="260.0" width="0.6" height="32.1" fill="#6a6e6a" fill-opacity="0.75"/>
<rect x="647.25" y="262.2" width="1.5" height="27.8" fill="#6c706c"/>
<rect x="649.43" y="256.9" width="0.6" height="7.6" fill="#6a6e6a" fill-opacity="0.75"/>
<rect x="648.98" y="258.5" width="1.5" height="3.7" fill="#6c706c"/>
<rect x="651.16" y="256.8" width="0.6" height="3.6" fill="#6a6e6a" fill-opacity="0.75"/>
<rect x="650.71" y="257.9" width="1.5" height="2.2" fill="#222422"/>
<rect x="652.89" y="259.4" width="0.6" height="7.4" fill="#6a6e6a" fill-opacity="0.75"/>
<rect x="652.44" y="260.1" width="1.5" height="6.4" fill="#222422"/>
<rect x="654.62" y="266.1" width="0.6" height="6.7" fill="#6a6e6a" fill-opacity="0.75"/>
<rect x="654.17" y="266.5" width="1.5" height="5.9" fill="#222422"/>
<rect x="656.35" y="272.1" width="0.6" height="3.2" fill="#6a6e6a" fill-opacity="0.75"/>
<rect x="655.90" y="272.4" width="1.5" height="2.6" fill="#222422"/>
<rect x="658.08" y="268.2" width="0.6" height="5.4" fill="#6a6e6a" fill-opacity="0.75"/>
<rect x="657.63" y="270.2" width="1.5" height="3.0" fill="#6c706c"/>
<rect x="659.81" y="267.7" width="0.6" height="3.0" fill="#6a6e6a" fill-opacity="0.75"/>
<rect x="659.36" y="269.1" width="1.5" height="1.1" fill="#6c706c"/>
<rect x="661.54" y="266.5" width="0.6" height="3.1" fill="#6a6e6a" fill-opacity="0.75"/>
<rect x="661.09" y="267.4" width="1.5" height="1.7" fill="#6c706c"/>
<rect x="663.27" y="266.7" width="0.6" height="4.0" fill="#6a6e6a" fill-opacity="0.75"/>
<rect x="662.82" y="267.3" width="1.5" height="2.8" fill="#222422"/>
<rect x="665.00" y="269.7" width="0.6" height="2.5" fill="#6a6e6a" fill-opacity="0.75"/>
<rect x="664.55" y="270.1" width="1.5" height="1.5" fill="#222422"/>
<rect x="666.73" y="268.7" width="0.6" height="2.8" fill="#6a6e6a" fill-opacity="0.75"/>
<rect x="666.28" y="269.0" width="1.5" height="1.7" fill="#6c706c"/>
<rect x="668.46" y="258.7" width="0.6" height="11.2" fill="#6a6e6a" fill-opacity="0.75"/>
<rect x="668.01" y="260.5" width="1.5" height="8.5" fill="#6c706c"/>
<rect x="670.19" y="260.1" width="0.6" height="5.5" fill="#6a6e6a" fill-opacity="0.75"/>
<rect x="669.74" y="261.3" width="1.5" height="3.3" fill="#222422"/>
<rect x="671.92" y="263.8" width="0.6" height="4.8" fill="#6a6e6a" fill-opacity="0.75"/>
<rect x="671.47" y="264.6" width="1.5" height="2.8" fill="#222422"/>
<rect x="673.65" y="267.0" width="0.6" height="5.1" fill="#6a6e6a" fill-opacity="0.75"/>
<rect x="673.20" y="267.5" width="1.5" height="3.2" fill="#222422"/>
<rect x="675.38" y="265.1" width="0.6" height="6.7" fill="#6a6e6a" fill-opacity="0.75"/>
<rect x="674.93" y="265.5" width="1.5" height="4.9" fill="#6c706c"/>
<rect x="677.11" y="261.5" width="0.6" height="5.6" fill="#6a6e6a" fill-opacity="0.75"/>
<rect x="676.66" y="263.7" width="1.5" height="1.7" fill="#6c706c"/>
<rect x="678.84" y="261.3" width="0.6" height="4.4" fill="#6a6e6a" fill-opacity="0.75"/>
<rect x="678.39" y="262.9" width="1.5" height="1.0" fill="#6c706c"/>
<rect x="680.57" y="262.3" width="0.6" height="4.1" fill="#6a6e6a" fill-opacity="0.75"/>
<rect x="680.12" y="263.3" width="1.5" height="1.0" fill="#222422"/>
<rect x="682.30" y="263.6" width="0.6" height="5.7" fill="#6a6e6a" fill-opacity="0.75"/>
<rect x="681.85" y="264.3" width="1.5" height="2.8" fill="#222422"/>
<rect x="684.03" y="266.7" width="0.6" height="3.6" fill="#6a6e6a" fill-opacity="0.75"/>
<rect x="683.58" y="267.1" width="1.5" height="2.9" fill="#222422"/>
<rect x="685.76" y="269.7" width="0.6" height="3.0" fill="#6a6e6a" fill-opacity="0.75"/>
<rect x="685.31" y="270.0" width="1.5" height="2.4" fill="#222422"/>
<rect x="687.49" y="261.6" width="0.6" height="9.7" fill="#6a6e6a" fill-opacity="0.75"/>
<rect x="687.04" y="263.6" width="1.5" height="7.3" fill="#6c706c"/>
<rect x="689.22" y="258.0" width="0.6" height="6.0" fill="#6a6e6a" fill-opacity="0.75"/>
<rect x="688.77" y="259.4" width="1.5" height="4.2" fill="#6c706c"/>
<rect x="690.95" y="258.0" width="0.6" height="22.8" fill="#6a6e6a" fill-opacity="0.75"/>
<rect x="690.50" y="258.9" width="1.5" height="21.5" fill="#222422"/>
<rect x="692.68" y="279.8" width="0.6" height="5.1" fill="#6a6e6a" fill-opacity="0.75"/>
<rect x="692.23" y="280.4" width="1.5" height="4.1" fill="#6c706c"/>
<rect x="694.41" y="273.7" width="0.6" height="7.2" fill="#6a6e6a" fill-opacity="0.75"/>
<rect x="693.96" y="274.1" width="1.5" height="6.3" fill="#6c706c"/>
<rect x="696.14" y="262.0" width="0.6" height="12.7" fill="#6a6e6a" fill-opacity="0.75"/>
<rect x="695.69" y="262.3" width="1.5" height="11.8" fill="#6c706c"/>
<rect x="697.87" y="263.1" width="0.6" height="11.4" fill="#6a6e6a" fill-opacity="0.75"/>
<rect x="697.42" y="264.9" width="1.5" height="9.0" fill="#222422"/>
<rect x="699.60" y="259.4" width="0.6" height="15.6" fill="#6a6e6a" fill-opacity="0.75"/>
<rect x="699.15" y="260.6" width="1.5" height="13.6" fill="#6c706c"/>
<rect x="701.33" y="260.6" width="0.6" height="6.0" fill="#6a6e6a" fill-opacity="0.75"/>
<rect x="700.88" y="261.4" width="1.5" height="4.3" fill="#222422"/>
<rect x="703.06" y="263.0" width="0.6" height="3.4" fill="#6a6e6a" fill-opacity="0.75"/>
<rect x="702.61" y="263.5" width="1.5" height="1.9" fill="#6c706c"/>
<rect x="704.79" y="260.9" width="0.6" height="3.8" fill="#6a6e6a" fill-opacity="0.75"/>
<rect x="704.34" y="261.2" width="1.5" height="2.3" fill="#6c706c"/>
<rect x="706.52" y="258.3" width="0.6" height="4.6" fill="#6a6e6a" fill-opacity="0.75"/>
<rect x="706.07" y="260.6" width="1.5" height="1.0" fill="#222422"/>
<rect x="708.25" y="259.9" width="0.6" height="6.6" fill="#6a6e6a" fill-opacity="0.75"/>
<rect x="707.80" y="261.5" width="1.5" height="3.5" fill="#222422"/>
<rect x="709.98" y="264.0" width="0.6" height="29.4" fill="#6a6e6a" fill-opacity="0.75"/>
<rect x="709.53" y="265.0" width="1.5" height="26.7" fill="#222422"/>
<rect x="711.71" y="289.8" width="0.6" height="5.1" fill="#6a6e6a" fill-opacity="0.75"/>
<rect x="711.26" y="290.4" width="1.5" height="2.6" fill="#6c706c"/>
<rect x="713.44" y="281.3" width="0.6" height="11.2" fill="#6a6e6a" fill-opacity="0.75"/>
<rect x="712.99" y="281.7" width="1.5" height="8.8" fill="#6c706c"/>
<rect x="715.17" y="279.0" width="0.6" height="9.9" fill="#6a6e6a" fill-opacity="0.75"/>
<rect x="714.72" y="279.3" width="1.5" height="7.4" fill="#222422"/>
<rect x="716.90" y="284.6" width="0.6" height="5.3" fill="#6a6e6a" fill-opacity="0.75"/>
<rect x="716.45" y="286.7" width="1.5" height="2.9" fill="#222422"/>
<line x1="727.8" y1="260.2" x2="743.6" y2="210.2" stroke="#585c58" stroke-width="1.0"/><polygon points="743.6,210.2 743.9,214.5 740.9,213.5" fill="#585c58"/>
<line x1="743.6" y1="210.2" x2="760.2" y2="156.5" stroke="#686c68" stroke-width="0.7"/><polygon points="760.2,156.5 760.5,160.8 757.5,159.8" fill="#585c58"/>
<line x1="728.9" y1="260.7" x2="740.6" y2="300.1" stroke="#585c58" stroke-width="0.9"/><polygon points="740.6,300.1 737.9,296.7 741.0,295.8" fill="#585c58"/>
<line x1="740.6" y1="300.1" x2="754" y2="341.3" stroke="#585c58" stroke-width="0.9"/><polygon points="754.0,341.3 751.2,338.0 754.3,337.0" fill="#585c58"/>
<rect x="0" y="0" width="830" height="1.4" fill="#a6aaa6"/>
<rect x="0" y="0" width="1.9" height="469" fill="#a4a8a4"/>
<rect x="799.2" y="1.4" width="1.7" height="457.2" fill="#a8b0a8"/>
<rect x="1.9" y="372.9" width="797.7" height="1" fill="#505850"/>
<rect x="1.9" y="458.1" width="799" height="0.8" fill="#7c847c"/>
<rect x="0" y="467.6" width="830" height="1.4" fill="#f6faf6"/>
<polygon points="716.2,1.4 722,1.4 719.1,4.8" fill="#a6aaa6"/>
<text x="1.4" y="464.7" class="t">20 Oct 2021</text>
<rect x="48.5" y="458.8" width="0.8" height="1.5" fill="#8a908a"/>
<text x="48.5" y="464.7" class="t">22 Oct 16:00</text>
<rect x="95.6" y="458.8" width="0.8" height="1.5" fill="#8a908a"/>
<text x="95.6" y="464.7" class="t">27 Oct 02:00</text>
<rect x="142.7" y="458.8" width="0.8" height="1.5" fill="#8a908a"/>
<text x="142.7" y="464.7" class="t">29 Oct 04:00</text>
<rect x="189.8" y="458.8" width="0.8" height="1.5" fill="#8a908a"/>
<text x="189.8" y="464.7" class="t">2 Nov 09:00</text>
<rect x="236.9" y="458.8" width="0.8" height="1.5" fill="#8a908a"/>
<text x="236.9" y="464.7" class="t">4 Nov 11:00</text>
<rect x="284.0" y="458.8" width="0.8" height="1.5" fill="#8a908a"/>
<text x="284.0" y="464.7" class="t">8 Nov 12:00</text>
<rect x="331.1" y="458.8" width="0.8" height="1.5" fill="#8a908a"/>
<text x="331.1" y="464.7" class="t">10 Nov 14:00</text>
<rect x="378.2" y="458.8" width="0.8" height="1.5" fill="#8a908a"/>
<text x="378.2" y="464.7" class="t">12 Nov 16:00</text>
<rect x="425.3" y="458.8" width="0.8" height="1.5" fill="#8a908a"/>
<text x="425.3" y="464.7" class="t">16 Nov 18:00</text>
<rect x="472.4" y="458.8" width="0.8" height="1.5" fill="#8a908a"/>
<text x="472.4" y="464.7" class="t">19 Nov 04:00</text>
<rect x="519.5" y="458.8" width="0.8" height="1.5" fill="#8a908a"/>
<text x="519.5" y="464.7" class="t">23 Nov 07:00</text>
<rect x="566.6" y="458.8" width="0.8" height="1.5" fill="#8a908a"/>
<text x="566.6" y="464.7" class="t">25 Nov 09:00</text>
<rect x="613.7" y="458.8" width="0.8" height="1.5" fill="#8a908a"/>
<text x="613.7" y="464.7" class="t">29 Nov 11:00</text>
<rect x="660.8" y="458.8" width="0.8" height="1.5" fill="#8a908a"/>
<text x="660.8" y="464.7" class="t">1 Dec 13:00</text>
<rect x="707.9" y="458.8" width="0.8" height="1.5" fill="#8a908a"/>
<text x="707.9" y="464.7" class="t">3 Dec 15:00</text>
<rect x="800.9" y="25.4" width="0.8" height="0.8" fill="#505450"/>
<text x="802.7" y="27.7" class="t" textLength="21.7" lengthAdjust="spacingAndGlyphs">26809.30</text>
<rect x="800.9" y="49.3" width="0.8" height="0.8" fill="#505450"/>
<text x="802.7" y="51.6" class="t" textLength="21.7" lengthAdjust="spacingAndGlyphs">26504.75</text>
<rect x="800.9" y="73.1" width="0.8" height="0.8" fill="#505450"/>
<text x="802.7" y="75.4" class="t" textLength="21.7" lengthAdjust="spacingAndGlyphs">26200.15</text>
<rect x="800.9" y="97.0" width="0.8" height="0.8" fill="#505450"/>
<text x="802.7" y="99.3" class="t" textLength="21.7" lengthAdjust="spacingAndGlyphs">25897.90</text>
<rect x="800.9" y="120.8" width="0.8" height="0.8" fill="#505450"/>
<text x="802.7" y="123.1" class="t" textLength="21.7" lengthAdjust="spacingAndGlyphs">25591.00</text>
<rect x="800.9" y="144.7" width="0.8" height="0.8" fill="#505450"/>
<text x="802.7" y="147.0" class="t" textLength="21.7" lengthAdjust="spacingAndGlyphs">25284.10</text>
<rect x="800.9" y="168.6" width="0.8" height="0.8" fill="#505450"/>
<text x="802.7" y="170.9" class="t" textLength="21.7" lengthAdjust="spacingAndGlyphs">24981.85</text>
<rect x="800.9" y="192.4" width="0.8" height="0.8" fill="#505450"/>
<text x="802.7" y="194.7" class="t" textLength="21.7" lengthAdjust="spacingAndGlyphs">24674.95</text>
<rect x="800.9" y="216.3" width="0.8" height="0.8" fill="#505450"/>
<text x="802.7" y="218.6" class="t" textLength="21.7" lengthAdjust="spacingAndGlyphs">24372.70</text>
<rect x="800.9" y="240.1" width="0.8" height="0.8" fill="#505450"/>
<text x="802.7" y="242.4" class="t" textLength="21.7" lengthAdjust="spacingAndGlyphs">24065.80</text>
<rect x="800.9" y="264.4" width="0.8" height="0.8" fill="#505450"/>
<text x="802.7" y="266.7" class="t" textLength="21.7" lengthAdjust="spacingAndGlyphs">23763.55</text>
<rect x="800.9" y="287.9" width="0.8" height="0.8" fill="#505450"/>
<text x="802.7" y="290.2" class="t" textLength="21.7" lengthAdjust="spacingAndGlyphs">23461.30</text>
<rect x="800.9" y="311.7" width="0.8" height="0.8" fill="#505450"/>
<text x="802.7" y="314.0" class="t" textLength="21.7" lengthAdjust="spacingAndGlyphs">23154.40</text>
<rect x="800.9" y="335.6" width="0.8" height="0.8" fill="#505450"/>
<text x="802.7" y="337.9" class="t" textLength="21.7" lengthAdjust="spacingAndGlyphs">22847.50</text>
<rect x="800.9" y="359.4" width="0.8" height="0.8" fill="#505450"/>
<text x="802.7" y="361.7" class="t" textLength="21.7" lengthAdjust="spacingAndGlyphs">22545.25</text>
<text x="801.8" y="379.6" class="t" textLength="18.5" lengthAdjust="spacingAndGlyphs">172.689</text>
<text x="801.8" y="414.1" class="t" textLength="10.5" lengthAdjust="spacingAndGlyphs">0.00</text>
<text x="801.8" y="456.9" class="t" textLength="20.5" lengthAdjust="spacingAndGlyphs">-216.699</text>
<rect x="800.3" y="12.1" width="26" height="6.1" fill="#0000ff"/>
<text x="802.7" y="17.0" class="t w" textLength="21.7" lengthAdjust="spacingAndGlyphs">26951.26</text>
<rect x="800.3" y="44.9" width="26" height="6.1" fill="#0000ff"/>
<text x="802.7" y="49.8" class="t w" textLength="21.7" lengthAdjust="spacingAndGlyphs">26535.00</text>
<rect x="800.3" y="101.1" width="26" height="6.1" fill="#0000ff"/>
<text x="802.7" y="106.0" class="t w" textLength="21.7" lengthAdjust="spacingAndGlyphs">25816.19</text>
<rect x="800.3" y="152.4" width="26" height="6.1" fill="#0000ff"/>
<text x="802.7" y="157.3" class="t w" textLength="21.7" lengthAdjust="spacingAndGlyphs">25160.63</text>
<rect x="800.3" y="206.5" width="26" height="6.1" fill="#0000ff"/>
<text x="802.7" y="211.4" class="t w" textLength="21.7" lengthAdjust="spacingAndGlyphs">24469.58</text>
<rect x="800.3" y="298.7" width="26" height="6.1" fill="#0000ff"/>
<text x="802.7" y="303.6" class="t w" textLength="21.7" lengthAdjust="spacingAndGlyphs">23294.97</text>
<rect x="800.3" y="338.7" width="26" height="6.1" fill="#0000ff"/>
<text x="802.7" y="343.6" class="t w" textLength="21.7" lengthAdjust="spacingAndGlyphs">22785.21</text>
<rect x="800.3" y="257.8" width="26" height="6.0" fill="#ff0000"/>
<text x="802.7" y="262.6" class="t w" textLength="21.7" lengthAdjust="spacingAndGlyphs">23818.00</text>
<rect x="800.3" y="286.2" width="26" height="6.2" fill="#000000"/>
<text x="802.7" y="291.4" class="t w" textLength="21.7" lengthAdjust="spacingAndGlyphs">23448.00</text>
<polygon points="3.1,4.3 6.9,4.3 5,6.7" fill="#000"/>
<text x="9.7" y="7.7" class="t" textLength="22.7" lengthAdjust="spacingAndGlyphs">HK50.s,H1</text>
<text x="36.3" y="7.7" class="t" textLength="21.5" lengthAdjust="spacingAndGlyphs">23498.00</text>
<text x="60" y="7.7" class="t" textLength="21.5" lengthAdjust="spacingAndGlyphs">23546.00</text>
<text x="83.6" y="7.7" class="t" textLength="21.5" lengthAdjust="spacingAndGlyphs">23427.00</text>
<text x="106.9" y="7.7" class="t" textLength="21.5" lengthAdjust="spacingAndGlyphs">23448.00</text>
<text x="3.5" y="380.5" class="t" textLength="74" lengthAdjust="spacingAndGlyphs">MACD(12,26,9) -62.547 -22.019</text>
</svg>
</body></html>
